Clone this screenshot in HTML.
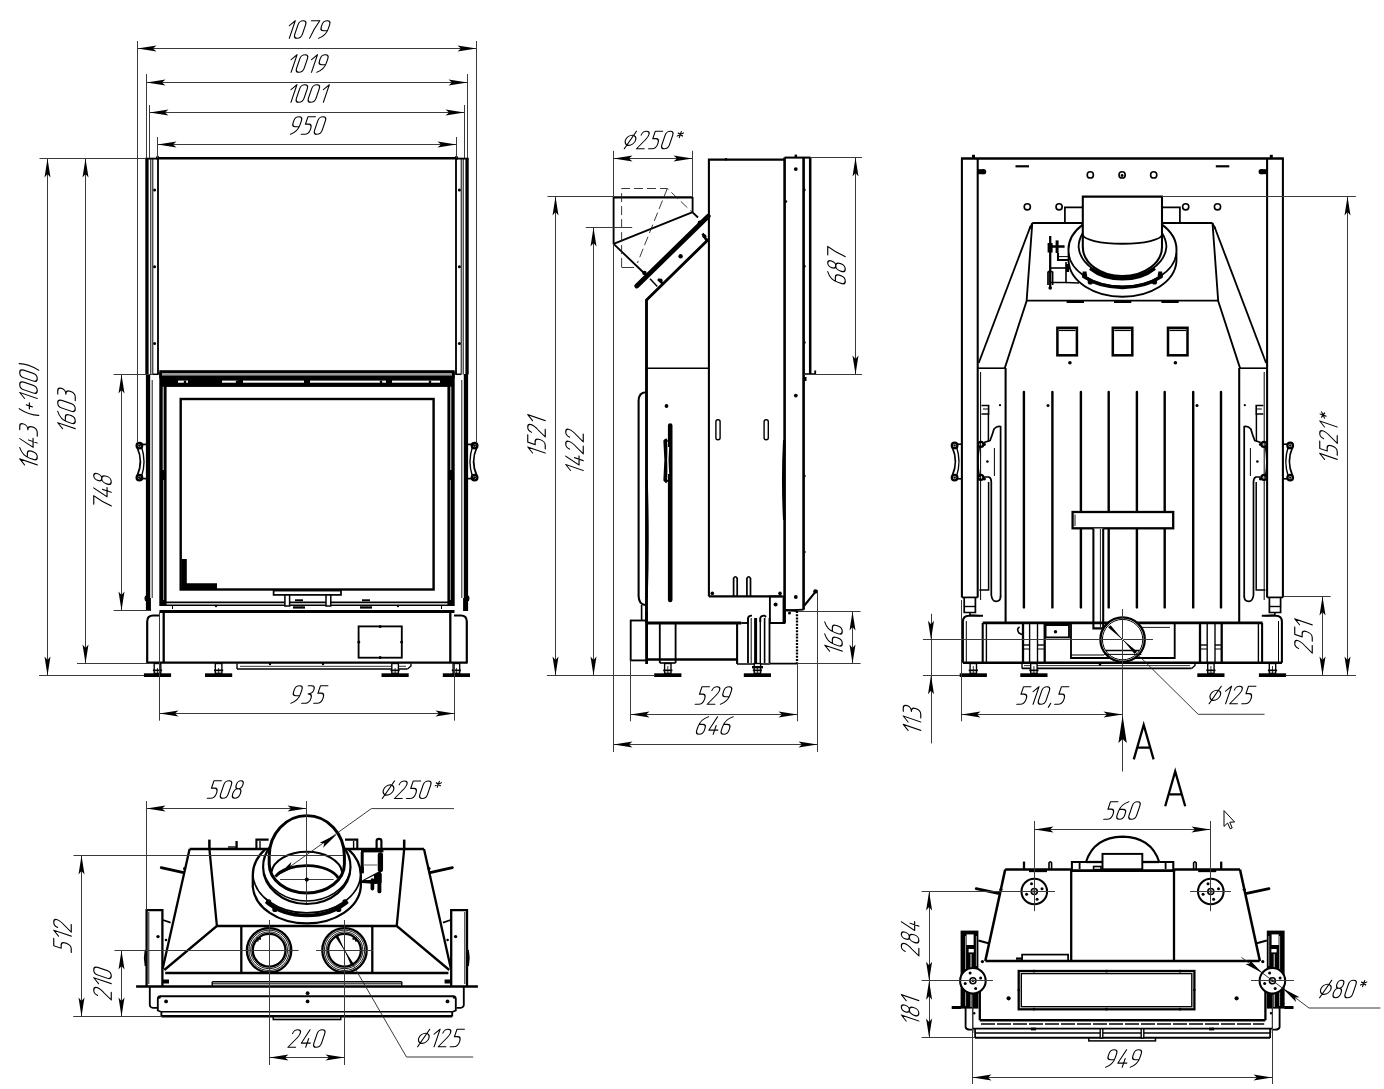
<!DOCTYPE html>
<html><head><meta charset="utf-8"><title>Drawing</title>
<style>html,body{margin:0;padding:0;background:#fff;font-family:"Liberation Sans",sans-serif;}svg{display:block}</style></head>
<body>
<svg width="1384" height="1089" viewBox="0 0 1384 1089">
<rect width="1384" height="1089" fill="#fff"/>
<g id="front">
<line x1="156.00" y1="158.20" x2="458.00" y2="158.20" stroke="#000" stroke-width="2.53" />
<rect x="145.30" y="158.40" width="3.30" height="216.10" fill="#000"/>
<line x1="150.80" y1="158.40" x2="150.80" y2="374.50" stroke="#000" stroke-width="1.0" />
<line x1="152.80" y1="158.40" x2="152.80" y2="374.50" stroke="#000" stroke-width="1.0" />
<line x1="158.00" y1="157.00" x2="158.00" y2="374.50" stroke="#000" stroke-width="1.84" />
<line x1="145.30" y1="158.60" x2="158.00" y2="158.60" stroke="#000" stroke-width="1.84" />
<line x1="152.80" y1="374.30" x2="158.60" y2="374.30" stroke="#000" stroke-width="1.49" />
<circle cx="154.60" cy="190.00" r="1.50" fill="#000"/>
<circle cx="154.60" cy="266.80" r="1.50" fill="#000"/>
<circle cx="154.60" cy="343.50" r="1.50" fill="#000"/>
<circle cx="157.60" cy="157.20" r="1.40" fill="#000"/>
<rect x="145.90" y="374.00" width="4.30" height="237.00" fill="#000"/>
<rect x="159.30" y="372.00" width="7.30" height="234.00" fill="#000"/>
<line x1="163.20" y1="386.00" x2="163.20" y2="470.00" stroke="#fff" stroke-width="0.9" />
<line x1="163.60" y1="480.00" x2="163.60" y2="600.00" stroke="#ddd" stroke-width="0.7" />
<line x1="152.20" y1="380.00" x2="152.20" y2="598.00" stroke="#000" stroke-width="0.9" />
<line x1="146.00" y1="444.40" x2="140.00" y2="444.40" stroke="#000" stroke-width="1.72" />
<line x1="146.00" y1="478.60" x2="140.00" y2="478.60" stroke="#000" stroke-width="1.72" />
<circle cx="139.40" cy="445.60" r="2.80" stroke="#000" stroke-width="2.3" fill="none"/>
<circle cx="139.40" cy="477.60" r="2.80" stroke="#000" stroke-width="2.3" fill="none"/>
<circle cx="139.40" cy="445.60" r="1.30" fill="#000"/>
<circle cx="139.40" cy="477.60" r="1.30" fill="#000"/>
<path d="M137.2,447.5 Q143.6,461.6 137.2,475.7" stroke="#000" stroke-width="1.72" fill="none" />
<path d="M141.6,447 Q146.4,461.6 141.6,476.2" stroke="#000" stroke-width="1.38" fill="none" />
<path d="M147.2,663.4 L147.2,621.5 Q147.2,615.5 153.2,615.5 L160,615.5" stroke="#000" stroke-width="2.18" fill="none" />
<line x1="163.70" y1="612.00" x2="163.70" y2="662.40" stroke="#000" stroke-width="2.3" />
<line x1="150.20" y1="598.00" x2="150.20" y2="611.00" stroke="#000" stroke-width="1.38" />
<path d="M146,596 Q144.6,598 146,601" stroke="#000" stroke-width="1.61" fill="none" />
<rect x="465.40" y="158.40" width="3.30" height="216.10" fill="#000"/>
<line x1="463.20" y1="158.40" x2="463.20" y2="374.50" stroke="#000" stroke-width="1.0" />
<line x1="461.20" y1="158.40" x2="461.20" y2="374.50" stroke="#000" stroke-width="1.0" />
<line x1="456.00" y1="157.00" x2="456.00" y2="374.50" stroke="#000" stroke-width="1.84" />
<line x1="468.70" y1="158.60" x2="456.00" y2="158.60" stroke="#000" stroke-width="1.84" />
<line x1="461.20" y1="374.30" x2="455.40" y2="374.30" stroke="#000" stroke-width="1.49" />
<circle cx="459.40" cy="190.00" r="1.50" fill="#000"/>
<circle cx="459.40" cy="266.80" r="1.50" fill="#000"/>
<circle cx="459.40" cy="343.50" r="1.50" fill="#000"/>
<circle cx="456.40" cy="157.20" r="1.40" fill="#000"/>
<rect x="463.80" y="374.00" width="4.30" height="237.00" fill="#000"/>
<rect x="447.40" y="372.00" width="7.30" height="234.00" fill="#000"/>
<line x1="450.80" y1="386.00" x2="450.80" y2="470.00" stroke="#fff" stroke-width="0.9" />
<line x1="450.40" y1="480.00" x2="450.40" y2="600.00" stroke="#ddd" stroke-width="0.7" />
<line x1="461.80" y1="380.00" x2="461.80" y2="598.00" stroke="#000" stroke-width="0.9" />
<line x1="468.00" y1="444.40" x2="474.00" y2="444.40" stroke="#000" stroke-width="1.72" />
<line x1="468.00" y1="478.60" x2="474.00" y2="478.60" stroke="#000" stroke-width="1.72" />
<circle cx="474.60" cy="445.60" r="2.80" stroke="#000" stroke-width="2.3" fill="none"/>
<circle cx="474.60" cy="477.60" r="2.80" stroke="#000" stroke-width="2.3" fill="none"/>
<circle cx="474.60" cy="445.60" r="1.30" fill="#000"/>
<circle cx="474.60" cy="477.60" r="1.30" fill="#000"/>
<path d="M476.8,447.5 Q470.4,461.6 476.8,475.7" stroke="#000" stroke-width="1.72" fill="none" />
<path d="M472.4,447 Q467.6,461.6 472.4,476.2" stroke="#000" stroke-width="1.38" fill="none" />
<path d="M466.8,663.4 L466.8,621.5 Q466.8,615.5 460.8,615.5 L454,615.5" stroke="#000" stroke-width="2.18" fill="none" />
<line x1="450.30" y1="612.00" x2="450.30" y2="662.40" stroke="#000" stroke-width="2.3" />
<line x1="463.80" y1="598.00" x2="463.80" y2="611.00" stroke="#000" stroke-width="1.38" />
<path d="M468,596 Q469.4,598 468,601" stroke="#000" stroke-width="1.61" fill="none" />
<rect x="159.30" y="370.20" width="295.40" height="8.10" fill="#000"/>
<rect x="162.00" y="373.00" width="290.00" height="2.60" fill="#9a9a9a"/>
<rect x="162.00" y="378.00" width="290.00" height="8.70" fill="#000"/>
<rect x="178.00" y="380.60" width="10.00" height="2.10" fill="#fff"/>
<rect x="222.00" y="380.60" width="16.00" height="2.10" fill="#fff"/>
<rect x="243.00" y="380.60" width="61.00" height="2.10" fill="#fff"/>
<rect x="310.00" y="380.60" width="76.00" height="2.10" fill="#fff"/>
<rect x="392.00" y="380.60" width="48.00" height="2.10" fill="#fff"/>
<circle cx="185.00" cy="381.90" r="1.30" fill="#000"/>
<circle cx="237.00" cy="381.90" r="1.30" fill="#000"/>
<circle cx="241.00" cy="381.90" r="1.30" fill="#000"/>
<circle cx="307.00" cy="381.90" r="1.30" fill="#000"/>
<circle cx="381.00" cy="381.90" r="1.30" fill="#000"/>
<circle cx="388.00" cy="381.90" r="1.30" fill="#000"/>
<circle cx="430.00" cy="381.90" r="1.30" fill="#000"/>
<line x1="164.70" y1="385.80" x2="449.30" y2="385.80" stroke="#000" stroke-width="1.84" />
<line x1="166.00" y1="602.30" x2="448.00" y2="602.30" stroke="#000" stroke-width="1.72" />
<line x1="166.00" y1="605.30" x2="448.00" y2="605.30" stroke="#000" stroke-width="1.49" />
<rect x="180.70" y="399.00" width="252.90" height="190.50" stroke="#000" stroke-width="2.42" fill="none"/>
<polygon points="181.5,559 186.8,559 186.8,583.2 217,583.2 217,589.2 181.5,589.2" fill="#000"/>
<rect x="273.60" y="590.60" width="67.40" height="4.30" stroke="#000" stroke-width="1.72" fill="#fff"/>
<rect x="284.90" y="595.00" width="4.70" height="11.00" stroke="#000" stroke-width="1.49" fill="#fff"/>
<rect x="326.00" y="595.00" width="4.80" height="11.00" stroke="#000" stroke-width="1.49" fill="#fff"/>
<rect x="295.00" y="599.30" width="8.00" height="1.90" fill="#000"/>
<rect x="293.00" y="606.30" width="12.00" height="2.30" fill="#000"/>
<rect x="362.00" y="599.30" width="8.00" height="1.90" fill="#000"/>
<rect x="360.00" y="606.30" width="12.00" height="2.30" fill="#000"/>
<line x1="172.50" y1="605.30" x2="172.50" y2="609.00" stroke="#000" stroke-width="1.0" />
<line x1="441.50" y1="605.30" x2="441.50" y2="609.00" stroke="#000" stroke-width="1.0" />
<circle cx="216.00" cy="606.00" r="1.20" fill="#000"/>
<circle cx="398.00" cy="606.00" r="1.20" fill="#000"/>
<line x1="159.50" y1="611.60" x2="454.50" y2="611.60" stroke="#000" stroke-width="2.99" />
<line x1="147.20" y1="662.60" x2="466.80" y2="662.60" stroke="#000" stroke-width="2.3" />
<rect x="358.60" y="626.40" width="43.20" height="31.30" stroke="#000" stroke-width="1.84" fill="none"/>
<circle cx="380.20" cy="626.60" r="1.50" fill="#000"/>
<circle cx="380.20" cy="657.50" r="1.50" fill="#000"/>
<circle cx="358.80" cy="642.00" r="1.50" fill="#000"/>
<circle cx="401.60" cy="642.00" r="1.50" fill="#000"/>
<line x1="237.00" y1="669.00" x2="407.50" y2="669.00" stroke="#000" stroke-width="1.61" />
<line x1="237.00" y1="663.50" x2="237.00" y2="669.00" stroke="#000" stroke-width="1.38" />
<path d="M411,663.5 L411,666 L407.5,669" stroke="#000" stroke-width="1.38" fill="none" />
<line x1="240.00" y1="666.30" x2="406.00" y2="666.30" stroke="#000" stroke-width="0.8" />
<circle cx="270.00" cy="664.00" r="1.20" fill="#000"/>
<circle cx="323.00" cy="664.00" r="1.20" fill="#000"/>
<circle cx="394.00" cy="664.00" r="1.20" fill="#000"/>
<rect x="143.90" y="673.30" width="27.20" height="3.70" fill="#000"/>
<rect x="154.20" y="663.50" width="6.60" height="9.80" stroke="#000" stroke-width="1.38" fill="#fff"/>
<line x1="157.50" y1="668.00" x2="157.50" y2="673.00" stroke="#000" stroke-width="0.8" />
<rect x="152.90" y="669.50" width="9.20" height="1.70" fill="#000"/>
<rect x="205.00" y="673.30" width="27.20" height="3.70" fill="#000"/>
<rect x="215.30" y="663.50" width="6.60" height="9.80" stroke="#000" stroke-width="1.38" fill="#fff"/>
<line x1="218.60" y1="668.00" x2="218.60" y2="673.00" stroke="#000" stroke-width="0.8" />
<rect x="214.00" y="669.50" width="9.20" height="1.70" fill="#000"/>
<rect x="381.50" y="673.30" width="27.20" height="3.70" fill="#000"/>
<rect x="391.80" y="663.50" width="6.60" height="9.80" stroke="#000" stroke-width="1.38" fill="#fff"/>
<line x1="395.10" y1="668.00" x2="395.10" y2="673.00" stroke="#000" stroke-width="0.8" />
<rect x="390.50" y="669.50" width="9.20" height="1.70" fill="#000"/>
<rect x="442.80" y="673.30" width="27.20" height="3.70" fill="#000"/>
<rect x="453.10" y="663.50" width="6.60" height="9.80" stroke="#000" stroke-width="1.38" fill="#fff"/>
<line x1="456.40" y1="668.00" x2="456.40" y2="673.00" stroke="#000" stroke-width="0.8" />
<rect x="451.80" y="669.50" width="9.20" height="1.70" fill="#000"/>
<line x1="137.50" y1="41.00" x2="137.50" y2="442.50" stroke="#3a3a3a" stroke-width="1.0" />
<line x1="476.50" y1="41.00" x2="476.50" y2="442.50" stroke="#3a3a3a" stroke-width="1.0" />
<line x1="137.50" y1="48.50" x2="476.50" y2="48.50" stroke="#3a3a3a" stroke-width="1.0" />
<polygon points="137.50,48.50 156.50,51.50 153.00,48.50 156.50,45.50" fill="#000"/>
<polygon points="476.50,48.50 457.50,45.50 461.00,48.50 457.50,51.50" fill="#000"/>
<g transform="translate(308.00,38.80) rotate(0) scale(1.0) translate(-22.98,0) matrix(1,0,-0.34,1,5.950,-18.050)" fill="none" stroke="#000" stroke-width="1.15" stroke-linecap="round" stroke-linejoin="round">
<path transform="translate(0.00,0)" d="M0,4.8 L4.3,0 L4.3,17.5"/>
<path transform="translate(8.40,0)" d="M0,4 Q0,0 3.8,0 Q7.6,0 7.6,4 L7.6,13.5 Q7.6,17.5 3.8,17.5 Q0,17.5 0,13.5 Z"/>
<path transform="translate(20.40,0)" d="M0,0 L8.4,0 Q5.2,8 4.2,17.5"/>
<path transform="translate(32.40,0)" d="M7.6,4 Q7.6,0 3.8,0 Q0,0 0,4 L0,6 Q0,10 3.8,10 L7.199999999999999,10 M7.6,4 L7.6,8 Q7.6,15 1.2,17.5"/>
</g>
<line x1="146.50" y1="74.00" x2="146.50" y2="158.00" stroke="#3a3a3a" stroke-width="1.0" />
<line x1="467.50" y1="74.00" x2="467.50" y2="158.00" stroke="#3a3a3a" stroke-width="1.0" />
<line x1="146.50" y1="82.50" x2="467.50" y2="82.50" stroke="#3a3a3a" stroke-width="1.0" />
<polygon points="146.50,82.50 165.50,85.50 162.00,82.50 165.50,79.50" fill="#000"/>
<polygon points="467.50,82.50 448.50,79.50 452.00,82.50 448.50,85.50" fill="#000"/>
<g transform="translate(308.00,72.80) rotate(0) scale(1.0) translate(-21.18,0) matrix(1,0,-0.34,1,5.950,-18.050)" fill="none" stroke="#000" stroke-width="1.15" stroke-linecap="round" stroke-linejoin="round">
<path transform="translate(0.00,0)" d="M0,4.8 L4.3,0 L4.3,17.5"/>
<path transform="translate(8.40,0)" d="M0,4 Q0,0 3.8,0 Q7.6,0 7.6,4 L7.6,13.5 Q7.6,17.5 3.8,17.5 Q0,17.5 0,13.5 Z"/>
<path transform="translate(20.40,0)" d="M0,4.8 L4.3,0 L4.3,17.5"/>
<path transform="translate(28.80,0)" d="M7.6,4 Q7.6,0 3.8,0 Q0,0 0,4 L0,6 Q0,10 3.8,10 L7.199999999999999,10 M7.6,4 L7.6,8 Q7.6,15 1.2,17.5"/>
</g>
<line x1="149.50" y1="105.00" x2="149.50" y2="158.00" stroke="#3a3a3a" stroke-width="1.0" />
<line x1="464.50" y1="105.00" x2="464.50" y2="158.00" stroke="#3a3a3a" stroke-width="1.0" />
<line x1="149.50" y1="112.50" x2="464.50" y2="112.50" stroke="#3a3a3a" stroke-width="1.0" />
<polygon points="149.50,112.50 168.50,115.50 165.00,112.50 168.50,109.50" fill="#000"/>
<polygon points="464.50,112.50 445.50,109.50 449.00,112.50 445.50,115.50" fill="#000"/>
<g transform="translate(308.00,102.80) rotate(0) scale(1.0) translate(-21.32,0) matrix(1,0,-0.34,1,5.950,-18.050)" fill="none" stroke="#000" stroke-width="1.15" stroke-linecap="round" stroke-linejoin="round">
<path transform="translate(0.00,0)" d="M0,4.8 L4.3,0 L4.3,17.5"/>
<path transform="translate(8.40,0)" d="M0,4 Q0,0 3.8,0 Q7.6,0 7.6,4 L7.6,13.5 Q7.6,17.5 3.8,17.5 Q0,17.5 0,13.5 Z"/>
<path transform="translate(20.40,0)" d="M0,4 Q0,0 3.8,0 Q7.6,0 7.6,4 L7.6,13.5 Q7.6,17.5 3.8,17.5 Q0,17.5 0,13.5 Z"/>
<path transform="translate(32.40,0)" d="M0,4.8 L4.3,0 L4.3,17.5"/>
</g>
<line x1="157.50" y1="137.00" x2="157.50" y2="158.00" stroke="#3a3a3a" stroke-width="1.0" />
<line x1="456.50" y1="137.00" x2="456.50" y2="158.00" stroke="#3a3a3a" stroke-width="1.0" />
<line x1="157.50" y1="144.50" x2="456.50" y2="144.50" stroke="#3a3a3a" stroke-width="1.0" />
<polygon points="157.50,144.50 176.50,147.50 173.00,144.50 176.50,141.50" fill="#000"/>
<polygon points="456.50,144.50 437.50,141.50 441.00,144.50 437.50,147.50" fill="#000"/>
<g transform="translate(308.00,134.80) rotate(0) scale(1.0) translate(-18.78,0) matrix(1,0,-0.34,1,5.950,-18.050)" fill="none" stroke="#000" stroke-width="1.15" stroke-linecap="round" stroke-linejoin="round">
<path transform="translate(0.00,0)" d="M7.6,4 Q7.6,0 3.8,0 Q0,0 0,4 L0,6 Q0,10 3.8,10 L7.199999999999999,10 M7.6,4 L7.6,8 Q7.6,15 1.2,17.5"/>
<path transform="translate(12.00,0)" d="M8.2,0 L0.8,0 L0.8,7.4 L3.8,7.4 Q7.6,7.4 7.6,12.2 Q7.6,17.5 3.4,17.5 L0,17.5"/>
<path transform="translate(24.00,0)" d="M0,4 Q0,0 3.8,0 Q7.6,0 7.6,4 L7.6,13.5 Q7.6,17.5 3.8,17.5 Q0,17.5 0,13.5 Z"/>
</g>
<line x1="39.50" y1="158.50" x2="146.00" y2="158.50" stroke="#3a3a3a" stroke-width="1.0" />
<line x1="39.00" y1="675.50" x2="144.00" y2="675.50" stroke="#3a3a3a" stroke-width="1.0" />
<line x1="77.00" y1="663.50" x2="147.00" y2="663.50" stroke="#3a3a3a" stroke-width="1.0" />
<line x1="47.50" y1="158.50" x2="47.50" y2="675.50" stroke="#3a3a3a" stroke-width="1.0" />
<polygon points="47.50,158.50 44.50,177.50 47.50,174.00 50.50,177.50" fill="#000"/>
<polygon points="47.50,675.50 50.50,656.50 47.50,660.00 44.50,656.50" fill="#000"/>
<g transform="translate(37.80,415.00) rotate(-90) scale(1.0) translate(-54.17,0) matrix(1,0,-0.34,1,5.950,-18.050)" fill="none" stroke="#000" stroke-width="1.15" stroke-linecap="round" stroke-linejoin="round">
<path transform="translate(0.00,0)" d="M0,4.8 L4.3,0 L4.3,17.5"/>
<path transform="translate(8.40,0)" d="M7.2,0 Q0,2.5 0,10 L0,13.5 Q0,17.5 3.8,17.5 Q7.6,17.5 7.6,13.5 L7.6,11.6 Q7.6,7.6 3.8,7.6 L0.5,7.6"/>
<path transform="translate(20.40,0)" d="M4.2,0 L0,13.30 L9,13.30 M5.8,8.75 L5.8,17.5"/>
<path transform="translate(33.00,0)" d="M0.6,0 L3.8,0 Q7.6,0 7.6,4 Q7.6,8 3.3,8.1 Q7.6,8.2 7.6,12.6 Q7.6,17.5 3.8,17.5 L0,17.5"/>
<path transform="translate(51.00,0)" d="M3.4,-0.5 Q0.4,8.75 3.4,19.0"/>
<path transform="translate(57.20,0)" d="M0.4,9.62 L6.4,9.62 M3.4,6.62 L3.4,12.62"/>
<path transform="translate(66.40,0)" d="M0,4.8 L4.3,0 L4.3,17.5"/>
<path transform="translate(74.80,0)" d="M0,4 Q0,0 3.8,0 Q7.6,0 7.6,4 L7.6,13.5 Q7.6,17.5 3.8,17.5 Q0,17.5 0,13.5 Z"/>
<path transform="translate(86.80,0)" d="M0,4 Q0,0 3.8,0 Q7.6,0 7.6,4 L7.6,13.5 Q7.6,17.5 3.8,17.5 Q0,17.5 0,13.5 Z"/>
<path transform="translate(98.80,0)" d="M0.6,-0.5 Q3.6,8.75 0.6,19.0"/>
</g>
<line x1="85.50" y1="158.50" x2="85.50" y2="663.50" stroke="#3a3a3a" stroke-width="1.0" />
<polygon points="85.50,158.50 82.50,177.50 85.50,174.00 88.50,177.50" fill="#000"/>
<polygon points="85.50,663.50 88.50,644.50 85.50,648.00 82.50,644.50" fill="#000"/>
<g transform="translate(75.80,410.00) rotate(-90) scale(1.0) translate(-22.98,0) matrix(1,0,-0.34,1,5.950,-18.050)" fill="none" stroke="#000" stroke-width="1.15" stroke-linecap="round" stroke-linejoin="round">
<path transform="translate(0.00,0)" d="M0,4.8 L4.3,0 L4.3,17.5"/>
<path transform="translate(8.40,0)" d="M7.2,0 Q0,2.5 0,10 L0,13.5 Q0,17.5 3.8,17.5 Q7.6,17.5 7.6,13.5 L7.6,11.6 Q7.6,7.6 3.8,7.6 L0.5,7.6"/>
<path transform="translate(20.40,0)" d="M0,4 Q0,0 3.8,0 Q7.6,0 7.6,4 L7.6,13.5 Q7.6,17.5 3.8,17.5 Q0,17.5 0,13.5 Z"/>
<path transform="translate(32.40,0)" d="M0.6,0 L3.8,0 Q7.6,0 7.6,4 Q7.6,8 3.3,8.1 Q7.6,8.2 7.6,12.6 Q7.6,17.5 3.8,17.5 L0,17.5"/>
</g>
<line x1="113.60" y1="374.50" x2="153.00" y2="374.50" stroke="#3a3a3a" stroke-width="1.0" />
<line x1="113.60" y1="610.50" x2="150.00" y2="610.50" stroke="#3a3a3a" stroke-width="1.0" />
<line x1="121.50" y1="374.50" x2="121.50" y2="610.50" stroke="#3a3a3a" stroke-width="1.0" />
<polygon points="121.50,374.50 118.50,393.50 121.50,390.00 124.50,393.50" fill="#000"/>
<polygon points="121.50,610.50 124.50,591.50 121.50,595.00 118.50,591.50" fill="#000"/>
<g transform="translate(111.80,491.00) rotate(-90) scale(1.0) translate(-19.08,0) matrix(1,0,-0.34,1,5.950,-18.050)" fill="none" stroke="#000" stroke-width="1.15" stroke-linecap="round" stroke-linejoin="round">
<path transform="translate(0.00,0)" d="M0,0 L8.4,0 Q5.2,8 4.2,17.5"/>
<path transform="translate(12.00,0)" d="M4.2,0 L0,13.30 L9,13.30 M5.8,8.75 L5.8,17.5"/>
<path transform="translate(24.60,0)" d="M3.8,8 Q0.5,8 0.5,4 Q0.5,0 3.8,0 Q7.1,0 7.1,4 Q7.1,8 3.8,8 Q0,8 0,12.8 Q0,17.5 3.8,17.5 Q7.6,17.5 7.6,12.8 Q7.6,8 3.8,8"/>
</g>
<line x1="159.50" y1="612.00" x2="159.50" y2="720.70" stroke="#3a3a3a" stroke-width="1.0" />
<line x1="454.50" y1="664.00" x2="454.50" y2="720.70" stroke="#3a3a3a" stroke-width="1.0" />
<line x1="159.50" y1="713.50" x2="454.50" y2="713.50" stroke="#3a3a3a" stroke-width="1.0" />
<polygon points="159.50,713.50 178.50,716.50 175.00,713.50 178.50,710.50" fill="#000"/>
<polygon points="454.50,713.50 435.50,710.50 439.00,713.50 435.50,716.50" fill="#000"/>
<g transform="translate(308.50,703.80) rotate(0) scale(1.0) translate(-18.78,0) matrix(1,0,-0.34,1,5.950,-18.050)" fill="none" stroke="#000" stroke-width="1.15" stroke-linecap="round" stroke-linejoin="round">
<path transform="translate(0.00,0)" d="M7.6,4 Q7.6,0 3.8,0 Q0,0 0,4 L0,6 Q0,10 3.8,10 L7.199999999999999,10 M7.6,4 L7.6,8 Q7.6,15 1.2,17.5"/>
<path transform="translate(12.00,0)" d="M0.6,0 L3.8,0 Q7.6,0 7.6,4 Q7.6,8 3.3,8.1 Q7.6,8.2 7.6,12.6 Q7.6,17.5 3.8,17.5 L0,17.5"/>
<path transform="translate(24.00,0)" d="M8.2,0 L0.8,0 L0.8,7.4 L3.8,7.4 Q7.6,7.4 7.6,12.2 Q7.6,17.5 3.4,17.5 L0,17.5"/>
</g>
</g>
<g id="side">
<line x1="613.60" y1="197.30" x2="692.60" y2="197.30" stroke="#000" stroke-width="2.3" />
<path d="M613.6,197 L613.6,243.9 L644.5,273.5" stroke="#000" stroke-width="1.84" fill="none" />
<path d="M692.6,197 L692.6,212.3 L698,217.5" stroke="#000" stroke-width="1.84" fill="none" />
<line x1="613.60" y1="243.90" x2="692.00" y2="212.30" stroke="#000" stroke-width="1.84" />
<path d="M621.6,267.1 L621.6,188.5 L667.3,188.5 L692.2,212.3" stroke="#222" stroke-width="0.9" fill="none" stroke-dasharray="9 4"/>
<path d="M667.3,188.5 L637.4,263" stroke="#222" stroke-width="0.9" fill="none" stroke-dasharray="9 4"/>
<line x1="621.60" y1="267.50" x2="634.00" y2="267.50" stroke="#3a3a3a" stroke-width="1.0" />
<line x1="636.80" y1="286.00" x2="708.20" y2="216.20" stroke="#000" stroke-width="4.83" stroke-linecap="round"/>
<path d="M646.5,623 L646.5,300 L708.6,239.2" stroke="#000" stroke-width="2.88" fill="none" />
<line x1="650.00" y1="278.80" x2="657.30" y2="286.40" stroke="#000" stroke-width="1.49" />
<line x1="657.30" y1="286.40" x2="706.40" y2="238.60" stroke="#000" stroke-width="0.01" />
<circle cx="660.60" cy="280.40" r="2.00" fill="#000"/>
<circle cx="680.60" cy="256.20" r="2.20" fill="#000"/>
<circle cx="704.40" cy="236.20" r="2.00" fill="#000"/>
<circle cx="644.50" cy="273.00" r="2.20" fill="#000"/>
<circle cx="700.00" cy="223.00" r="2.40" fill="#000"/>
<line x1="658.00" y1="279.00" x2="663.50" y2="284.40" stroke="#000" stroke-width="2.53" />
<line x1="702.50" y1="233.50" x2="707.00" y2="241.00" stroke="#000" stroke-width="2.53" />
<path d="M708.9,596.4 L708.9,159.6 L784.5,159.6" stroke="#000" stroke-width="2.07" fill="none" />
<line x1="708.90" y1="596.40" x2="782.00" y2="596.40" stroke="#000" stroke-width="2.07" />
<circle cx="726.00" cy="159.20" r="1.30" fill="#000"/>
<rect x="783.30" y="157.50" width="2.60" height="465.50" fill="#000"/>
<line x1="784.50" y1="157.60" x2="810.60" y2="157.60" stroke="#000" stroke-width="2.07" />
<line x1="803.60" y1="157.60" x2="803.60" y2="609.70" stroke="#000" stroke-width="2.64" />
<line x1="810.20" y1="157.60" x2="810.20" y2="374.00" stroke="#000" stroke-width="2.53" />
<path d="M803.6,374.2 L815.2,374.2 L815.2,370.6" stroke="#000" stroke-width="1.84" fill="none" />
<rect x="803.00" y="377.00" width="3.50" height="4.00" fill="#000"/>
<rect x="794.60" y="154.60" width="2.40" height="3.40" fill="#000"/>
<circle cx="795.80" cy="169.10" r="1.90" fill="#000"/>
<circle cx="795.80" cy="395.60" r="1.90" fill="#000"/>
<circle cx="795.80" cy="597.00" r="1.90" fill="#000"/>
<circle cx="804.40" cy="189.90" r="1.30" fill="#000"/>
<circle cx="804.40" cy="266.30" r="1.30" fill="#000"/>
<circle cx="804.40" cy="342.50" r="1.30" fill="#000"/>
<circle cx="804.40" cy="476.00" r="1.30" fill="#000"/>
<circle cx="804.40" cy="552.00" r="1.30" fill="#000"/>
<circle cx="786.00" cy="201.50" r="1.20" fill="#000"/>
<rect x="715.9" y="419.7" width="4.2" height="20" rx="2" fill="none" stroke="#000" stroke-width="1.4"/>
<rect x="764.1" y="419.7" width="4.2" height="20" rx="2" fill="none" stroke="#000" stroke-width="1.4"/>
<path d="M733.6,596 L733.6,578.5 Q735.4,575 737.1999999999999,578.5 L737.1999999999999,596" stroke="#000" stroke-width="1.72" fill="none" />
<path d="M746.9000000000001,596 L746.9000000000001,578.5 Q748.7,575 750.5,578.5 L750.5,596" stroke="#000" stroke-width="1.72" fill="none" />
<circle cx="712.30" cy="593.40" r="1.80" fill="#000"/>
<circle cx="780.00" cy="593.40" r="1.80" fill="#000"/>
<line x1="646.50" y1="368.20" x2="708.90" y2="368.20" stroke="#000" stroke-width="1.61" />
<path d="M646,392.3 Q638.6,392.6 638.6,401 L638.6,596 Q638.8,604 645,605" stroke="#000" stroke-width="2.07" fill="none" />
<line x1="641.60" y1="605.00" x2="641.60" y2="620.50" stroke="#000" stroke-width="1.61" />
<circle cx="666.50" cy="406.00" r="1.90" fill="#000"/>
<path d="M670.2,425.5 L670.2,600" stroke="#000" stroke-width="4.6" fill="none" stroke-linecap="round"/>
<path d="M667.3,439.7 L665.2,441 L666.2,460 L665.2,480 L667.3,482" stroke="#000" stroke-width="3.68" fill="none" stroke-linejoin="round"/>
<path d="M668.5,447 L667.8,460 L668.5,474" stroke="#fff" stroke-width="1.38" fill="none" />
<path d="M646.6,480 Q648.6,540 646.6,598" stroke="#000" stroke-width="2.3" fill="none" />
<path d="M784.4,440 Q782.3,480 784.4,520" stroke="#000" stroke-width="2.76" fill="none" />
<rect x="769.90" y="596.40" width="13.60" height="26.60" stroke="#000" stroke-width="1.84" fill="none"/>
<circle cx="775.60" cy="604.40" r="2.00" fill="#000"/>
<path d="M769.9,623 L784.5,623 L784.5,610.5 L803.6,609.7" stroke="#000" stroke-width="1.84" fill="none" />
<line x1="804.40" y1="605.50" x2="815.60" y2="591.60" stroke="#000" stroke-width="2.07" />
<circle cx="815.40" cy="591.40" r="2.20" fill="#000"/>
<path d="M785.5,610 L797,611" stroke="#000" stroke-width="1.84" fill="none" />
<circle cx="789.50" cy="613.00" r="1.50" fill="#000"/>
<line x1="797.00" y1="611.00" x2="797.00" y2="663.00" stroke="#000" stroke-width="2.3" stroke-dasharray="2 1.2"/>
<line x1="770.00" y1="663.60" x2="797.00" y2="663.60" stroke="#000" stroke-width="1.72" />
<line x1="647.40" y1="623.00" x2="741.30" y2="623.00" stroke="#000" stroke-width="2.76" />
<line x1="647.00" y1="659.50" x2="737.00" y2="659.50" stroke="#000" stroke-width="2.3" />
<rect x="630.70" y="620.50" width="15.90" height="39.90" stroke="#000" stroke-width="1.84" fill="none"/>
<line x1="646.60" y1="612.00" x2="646.60" y2="664.00" stroke="#000" stroke-width="2.76" />
<line x1="659.80" y1="623.00" x2="659.80" y2="663.00" stroke="#000" stroke-width="1.84" />
<line x1="675.60" y1="623.00" x2="675.60" y2="663.00" stroke="#000" stroke-width="1.84" />
<line x1="659.80" y1="663.00" x2="675.60" y2="663.00" stroke="#000" stroke-width="1.61" />
<line x1="737.10" y1="623.00" x2="737.10" y2="664.00" stroke="#000" stroke-width="2.07" />
<line x1="737.00" y1="664.00" x2="770.00" y2="664.00" stroke="#000" stroke-width="1.72" />
<line x1="748.00" y1="618.00" x2="748.00" y2="663.00" stroke="#000" stroke-width="1.84" />
<line x1="751.20" y1="618.00" x2="751.20" y2="663.00" stroke="#000" stroke-width="1.0" />
<line x1="755.60" y1="618.00" x2="755.60" y2="663.00" stroke="#000" stroke-width="2.99" />
<line x1="760.30" y1="618.00" x2="760.30" y2="663.00" stroke="#000" stroke-width="1.38" />
<line x1="764.60" y1="618.00" x2="764.60" y2="663.00" stroke="#000" stroke-width="1.61" />
<line x1="769.50" y1="618.00" x2="769.50" y2="663.00" stroke="#000" stroke-width="1.84" />
<path d="M748,622 L748,618 Q748.6,615.4 752,615.6" stroke="#000" stroke-width="1.84" fill="none" />
<path d="M760.3,622 L760.3,618 Q761,615.4 764.6,615.6 L766,617" stroke="#000" stroke-width="1.84" fill="none" />
<line x1="741.30" y1="623.00" x2="748.00" y2="623.00" stroke="#000" stroke-width="1.84" />
<rect x="654.20" y="673.30" width="27.20" height="3.70" fill="#000"/>
<rect x="664.60" y="663.50" width="6.40" height="9.80" stroke="#000" stroke-width="1.38" fill="#fff"/>
<line x1="667.80" y1="666.00" x2="667.80" y2="673.00" stroke="#000" stroke-width="0.8" />
<rect x="663.20" y="669.50" width="9.20" height="1.70" fill="#000"/>
<rect x="743.80" y="673.30" width="27.20" height="3.70" fill="#000"/>
<rect x="754.20" y="663.50" width="6.40" height="9.80" stroke="#000" stroke-width="1.38" fill="#fff"/>
<line x1="757.40" y1="666.00" x2="757.40" y2="673.00" stroke="#000" stroke-width="0.8" />
<rect x="752.80" y="669.50" width="9.20" height="1.70" fill="#000"/>
<rect x="752.00" y="666.00" width="11.00" height="2.40" fill="#000"/>
<line x1="613.50" y1="150.80" x2="613.50" y2="197.00" stroke="#3a3a3a" stroke-width="1.0" />
<line x1="692.50" y1="150.80" x2="692.50" y2="197.00" stroke="#3a3a3a" stroke-width="1.0" />
<line x1="613.50" y1="158.50" x2="692.50" y2="158.50" stroke="#3a3a3a" stroke-width="1.0" />
<polygon points="613.50,158.50 632.50,161.50 629.00,158.50 632.50,155.50" fill="#000"/>
<polygon points="692.50,158.50 673.50,155.50 677.00,158.50 673.50,161.50" fill="#000"/>
<g transform="translate(654.50,149.30) rotate(0) scale(1.0) translate(-29.58,0) matrix(1,0,-0.34,1,5.950,-18.050)" fill="none" stroke="#000" stroke-width="1.15" stroke-linecap="round" stroke-linejoin="round">
<path transform="translate(0.00,0)" d="M-0.6,17.5 L5.6,0 M-2.4,9.05 a5.1,5.1 0 1 0 10.2,0 a5.1,5.1 0 1 0 -10.2,0"/>
<path transform="translate(11.60,0)" d="M0,3.8 Q0.3,0 3.8,0 Q7.6,0 7.6,3.6 Q7.6,6.5 4.5,10.5 L0,17.5 L7.6,17.5"/>
<path transform="translate(23.60,0)" d="M8.2,0 L0.8,0 L0.8,7.4 L3.8,7.4 Q7.6,7.4 7.6,12.2 Q7.6,17.5 3.4,17.5 L0,17.5"/>
<path transform="translate(35.60,0)" d="M0,4 Q0,0 3.8,0 Q7.6,0 7.6,4 L7.6,13.5 Q7.6,17.5 3.8,17.5 Q0,17.5 0,13.5 Z"/>
<path transform="translate(47.60,0)" d="M3,0.3 L3,6.3 M0.4,1.8 L5.6,4.8 M5.6,1.8 L0.4,4.8"/>
</g>
<line x1="811.00" y1="157.50" x2="862.00" y2="157.50" stroke="#3a3a3a" stroke-width="1.0" />
<line x1="804.00" y1="374.50" x2="862.00" y2="374.50" stroke="#3a3a3a" stroke-width="1.0" />
<line x1="855.50" y1="157.50" x2="855.50" y2="374.50" stroke="#3a3a3a" stroke-width="1.0" />
<polygon points="855.50,157.50 852.50,176.50 855.50,173.00 858.50,176.50" fill="#000"/>
<polygon points="855.50,374.50 858.50,355.50 855.50,359.00 852.50,355.50" fill="#000"/>
<g transform="translate(845.80,266.00) rotate(-90) scale(1.0) translate(-18.78,0) matrix(1,0,-0.34,1,5.950,-18.050)" fill="none" stroke="#000" stroke-width="1.15" stroke-linecap="round" stroke-linejoin="round">
<path transform="translate(0.00,0)" d="M7.2,0 Q0,2.5 0,10 L0,13.5 Q0,17.5 3.8,17.5 Q7.6,17.5 7.6,13.5 L7.6,11.6 Q7.6,7.6 3.8,7.6 L0.5,7.6"/>
<path transform="translate(12.00,0)" d="M3.8,8 Q0.5,8 0.5,4 Q0.5,0 3.8,0 Q7.1,0 7.1,4 Q7.1,8 3.8,8 Q0,8 0,12.8 Q0,17.5 3.8,17.5 Q7.6,17.5 7.6,12.8 Q7.6,8 3.8,8"/>
<path transform="translate(24.00,0)" d="M0,0 L8.4,0 Q5.2,8 4.2,17.5"/>
</g>
<line x1="547.50" y1="196.50" x2="613.00" y2="196.50" stroke="#3a3a3a" stroke-width="1.0" />
<line x1="585.80" y1="227.50" x2="632.20" y2="227.50" stroke="#3a3a3a" stroke-width="1.0" />
<line x1="546.90" y1="675.50" x2="654.00" y2="675.50" stroke="#3a3a3a" stroke-width="1.0" />
<line x1="555.50" y1="196.50" x2="555.50" y2="675.50" stroke="#3a3a3a" stroke-width="1.0" />
<polygon points="555.50,196.50 552.50,215.50 555.50,212.00 558.50,215.50" fill="#000"/>
<polygon points="555.50,675.50 558.50,656.50 555.50,660.00 552.50,656.50" fill="#000"/>
<g transform="translate(545.80,436.00) rotate(-90) scale(1.0) translate(-21.32,0) matrix(1,0,-0.34,1,5.950,-18.050)" fill="none" stroke="#000" stroke-width="1.15" stroke-linecap="round" stroke-linejoin="round">
<path transform="translate(0.00,0)" d="M0,4.8 L4.3,0 L4.3,17.5"/>
<path transform="translate(8.40,0)" d="M8.2,0 L0.8,0 L0.8,7.4 L3.8,7.4 Q7.6,7.4 7.6,12.2 Q7.6,17.5 3.4,17.5 L0,17.5"/>
<path transform="translate(20.40,0)" d="M0,3.8 Q0.3,0 3.8,0 Q7.6,0 7.6,3.6 Q7.6,6.5 4.5,10.5 L0,17.5 L7.6,17.5"/>
<path transform="translate(32.40,0)" d="M0,4.8 L4.3,0 L4.3,17.5"/>
</g>
<line x1="593.50" y1="227.50" x2="593.50" y2="675.50" stroke="#3a3a3a" stroke-width="1.0" />
<polygon points="593.50,227.50 590.50,246.50 593.50,243.00 596.50,246.50" fill="#000"/>
<polygon points="593.50,675.50 596.50,656.50 593.50,660.00 590.50,656.50" fill="#000"/>
<g transform="translate(583.80,451.50) rotate(-90) scale(1.0) translate(-23.28,0) matrix(1,0,-0.34,1,5.950,-18.050)" fill="none" stroke="#000" stroke-width="1.15" stroke-linecap="round" stroke-linejoin="round">
<path transform="translate(0.00,0)" d="M0,4.8 L4.3,0 L4.3,17.5"/>
<path transform="translate(8.40,0)" d="M4.2,0 L0,13.30 L9,13.30 M5.8,8.75 L5.8,17.5"/>
<path transform="translate(21.00,0)" d="M0,3.8 Q0.3,0 3.8,0 Q7.6,0 7.6,3.6 Q7.6,6.5 4.5,10.5 L0,17.5 L7.6,17.5"/>
<path transform="translate(33.00,0)" d="M0,3.8 Q0.3,0 3.8,0 Q7.6,0 7.6,3.6 Q7.6,6.5 4.5,10.5 L0,17.5 L7.6,17.5"/>
</g>
<line x1="798.00" y1="611.50" x2="860.60" y2="611.50" stroke="#3a3a3a" stroke-width="1.0" />
<line x1="797.00" y1="663.50" x2="860.60" y2="663.50" stroke="#3a3a3a" stroke-width="1.0" />
<line x1="852.50" y1="611.50" x2="852.50" y2="663.50" stroke="#3a3a3a" stroke-width="1.0" />
<polygon points="852.50,611.50 849.50,630.50 852.50,627.00 855.50,630.50" fill="#000"/>
<polygon points="852.50,663.50 855.50,644.50 852.50,648.00 849.50,644.50" fill="#000"/>
<g transform="translate(842.80,638.50) rotate(-90) scale(1.0) translate(-16.98,0) matrix(1,0,-0.34,1,5.950,-18.050)" fill="none" stroke="#000" stroke-width="1.15" stroke-linecap="round" stroke-linejoin="round">
<path transform="translate(0.00,0)" d="M0,4.8 L4.3,0 L4.3,17.5"/>
<path transform="translate(8.40,0)" d="M7.2,0 Q0,2.5 0,10 L0,13.5 Q0,17.5 3.8,17.5 Q7.6,17.5 7.6,13.5 L7.6,11.6 Q7.6,7.6 3.8,7.6 L0.5,7.6"/>
<path transform="translate(20.40,0)" d="M7.2,0 Q0,2.5 0,10 L0,13.5 Q0,17.5 3.8,17.5 Q7.6,17.5 7.6,13.5 L7.6,11.6 Q7.6,7.6 3.8,7.6 L0.5,7.6"/>
</g>
<line x1="630.50" y1="660.00" x2="630.50" y2="721.30" stroke="#3a3a3a" stroke-width="1.0" />
<line x1="797.50" y1="664.00" x2="797.50" y2="721.30" stroke="#3a3a3a" stroke-width="1.0" />
<line x1="630.50" y1="714.50" x2="797.50" y2="714.50" stroke="#3a3a3a" stroke-width="1.0" />
<polygon points="630.50,714.50 649.50,717.50 646.00,714.50 649.50,711.50" fill="#000"/>
<polygon points="797.50,714.50 778.50,711.50 782.00,714.50 778.50,717.50" fill="#000"/>
<g transform="translate(714.00,704.80) rotate(0) scale(1.0) translate(-18.78,0) matrix(1,0,-0.34,1,5.950,-18.050)" fill="none" stroke="#000" stroke-width="1.15" stroke-linecap="round" stroke-linejoin="round">
<path transform="translate(0.00,0)" d="M8.2,0 L0.8,0 L0.8,7.4 L3.8,7.4 Q7.6,7.4 7.6,12.2 Q7.6,17.5 3.4,17.5 L0,17.5"/>
<path transform="translate(12.00,0)" d="M0,3.8 Q0.3,0 3.8,0 Q7.6,0 7.6,3.6 Q7.6,6.5 4.5,10.5 L0,17.5 L7.6,17.5"/>
<path transform="translate(24.00,0)" d="M7.6,4 Q7.6,0 3.8,0 Q0,0 0,4 L0,6 Q0,10 3.8,10 L7.199999999999999,10 M7.6,4 L7.6,8 Q7.6,15 1.2,17.5"/>
</g>
<line x1="613.50" y1="244.00" x2="613.50" y2="752.00" stroke="#3a3a3a" stroke-width="1.0" />
<line x1="817.50" y1="590.00" x2="817.50" y2="752.00" stroke="#3a3a3a" stroke-width="1.0" />
<line x1="613.50" y1="744.50" x2="817.50" y2="744.50" stroke="#3a3a3a" stroke-width="1.0" />
<polygon points="613.50,744.50 632.50,747.50 629.00,744.50 632.50,741.50" fill="#000"/>
<polygon points="817.50,744.50 798.50,741.50 802.00,744.50 798.50,747.50" fill="#000"/>
<g transform="translate(714.50,734.80) rotate(0) scale(1.0) translate(-19.08,0) matrix(1,0,-0.34,1,5.950,-18.050)" fill="none" stroke="#000" stroke-width="1.15" stroke-linecap="round" stroke-linejoin="round">
<path transform="translate(0.00,0)" d="M7.2,0 Q0,2.5 0,10 L0,13.5 Q0,17.5 3.8,17.5 Q7.6,17.5 7.6,13.5 L7.6,11.6 Q7.6,7.6 3.8,7.6 L0.5,7.6"/>
<path transform="translate(12.00,0)" d="M4.2,0 L0,13.30 L9,13.30 M5.8,8.75 L5.8,17.5"/>
<path transform="translate(24.60,0)" d="M7.2,0 Q0,2.5 0,10 L0,13.5 Q0,17.5 3.8,17.5 Q7.6,17.5 7.6,13.5 L7.6,11.6 Q7.6,7.6 3.8,7.6 L0.5,7.6"/>
</g>
</g>
<g id="back">
<line x1="961.00" y1="158.50" x2="1283.80" y2="158.50" stroke="#000" stroke-width="2.53" />
<line x1="961.90" y1="158.50" x2="961.90" y2="597.40" stroke="#000" stroke-width="2.07" />
<line x1="977.70" y1="158.50" x2="977.70" y2="597.40" stroke="#000" stroke-width="2.07" />
<line x1="961.90" y1="597.40" x2="977.70" y2="597.40" stroke="#000" stroke-width="1.72" />
<rect x="972.00" y="154.80" width="3.00" height="3.20" fill="#000"/>
<path d="M964.2,597.4 L964.2,612.5 L975.4,612.5 L975.4,597.4" stroke="#000" stroke-width="1.72" fill="none" />
<line x1="964.20" y1="606.50" x2="975.40" y2="606.50" stroke="#000" stroke-width="1.38" />
<path d="M970,612.5 L970,615 L980,615.7" stroke="#000" stroke-width="1.61" fill="none" />
<rect x="978.00" y="169.20" width="5.60" height="5.00" fill="#000"/>
<circle cx="983.60" cy="171.70" r="2.60" fill="#000"/>
<line x1="1015.50" y1="166.30" x2="1029.00" y2="166.30" stroke="#000" stroke-width="2.18" />
<line x1="1030.60" y1="226.00" x2="978.70" y2="363.00" stroke="#000" stroke-width="1.84" />
<path d="M1032.3,223 L1026.6,301 L1004.6,368.6" stroke="#000" stroke-width="1.84" fill="none" />
<line x1="978.20" y1="368.20" x2="1004.60" y2="368.20" stroke="#000" stroke-width="1.61" />
<path d="M1032.3,223 L1029.5,229" stroke="#000" stroke-width="1.72" fill="none" />
<line x1="1005.60" y1="368.00" x2="1005.60" y2="622.00" stroke="#000" stroke-width="2.07" />
<circle cx="1027.30" cy="206.80" r="3.10" stroke="#000" stroke-width="1.61" fill="none"/>
<circle cx="1059.10" cy="206.80" r="3.10" stroke="#000" stroke-width="1.61" fill="none"/>
<path d="M1064.9,222.6 L1064.9,207.3 L1082.8,207.3" stroke="#000" stroke-width="1.72" fill="none" />
<line x1="961.90" y1="444.20" x2="957.00" y2="444.20" stroke="#000" stroke-width="1.61" />
<line x1="961.90" y1="478.80" x2="957.00" y2="478.80" stroke="#000" stroke-width="1.61" />
<circle cx="954.60" cy="445.40" r="2.80" stroke="#000" stroke-width="2.3" fill="none"/>
<circle cx="954.60" cy="477.60" r="2.80" stroke="#000" stroke-width="2.3" fill="none"/>
<circle cx="954.60" cy="445.40" r="1.20" fill="#000"/>
<circle cx="954.60" cy="477.60" r="1.20" fill="#000"/>
<path d="M952.3,447.4 Q958.5,461.5 952.3,475.6" stroke="#000" stroke-width="1.72" fill="none" />
<path d="M956.6,447 Q961.4,461.5 956.6,476" stroke="#000" stroke-width="1.38" fill="none" />
<line x1="980.60" y1="372.00" x2="980.60" y2="600.00" stroke="#000" stroke-width="1.0" />
<path d="M981.5,405.5 L988.6,405.5 L988.6,414 L981.5,414" stroke="#000" stroke-width="1.61" fill="none" />
<line x1="983.00" y1="409.00" x2="988.00" y2="409.00" stroke="#000" stroke-width="1.0" />
<line x1="988.40" y1="414.00" x2="988.40" y2="441.00" stroke="#000" stroke-width="1.49" />
<path d="M979.4,590 L988.6,590 L988.6,482" stroke="#000" stroke-width="1.49" fill="none" />
<path d="M1000.6,597 L1000.6,426.6 Q997,425.6 994,429 Q991.8,436.5 990,440.6 L984,442.5" stroke="#000" stroke-width="1.72" fill="none" />
<path d="M984,477 L988.9,477 Q991.3,478 991.3,482 L991.3,595 Q992,601.4 996,601.4 Q1000.6,601.4 1000.6,596" stroke="#000" stroke-width="1.72" fill="none" />
<path d="M994.4,448 L994.4,476" stroke="#000" stroke-width="1.0" fill="none" />
<circle cx="980.80" cy="444.40" r="2.50" stroke="#000" stroke-width="2.18" fill="none"/>
<circle cx="980.80" cy="477.40" r="2.50" stroke="#000" stroke-width="2.18" fill="none"/>
<path d="M979.4,446.5 Q976.6,461.5 979.4,477" stroke="#000" stroke-width="1.49" fill="none" />
<circle cx="987.40" cy="461.50" r="1.30" fill="#000"/>
<circle cx="984.50" cy="444.50" r="1.40" fill="#000"/>
<circle cx="984.50" cy="479.00" r="1.40" fill="#000"/>
<circle cx="1000.00" cy="405.20" r="1.10" fill="#000"/>
<path d="M962.9,662.7 L962.9,621.8 Q962.9,615.7 969,615.7 L983,615.7" stroke="#000" stroke-width="2.07" fill="none" />
<line x1="966.30" y1="621.00" x2="966.30" y2="662.00" stroke="#000" stroke-width="1.0" />
<line x1="982.70" y1="623.00" x2="982.70" y2="662.70" stroke="#000" stroke-width="2.07" />
<line x1="986.40" y1="623.00" x2="986.40" y2="662.70" stroke="#000" stroke-width="1.38" />
<line x1="1282.90" y1="158.50" x2="1282.90" y2="597.40" stroke="#000" stroke-width="2.07" />
<line x1="1267.10" y1="158.50" x2="1267.10" y2="597.40" stroke="#000" stroke-width="2.07" />
<line x1="1282.90" y1="597.40" x2="1267.10" y2="597.40" stroke="#000" stroke-width="1.72" />
<rect x="1269.80" y="154.80" width="3.00" height="3.20" fill="#000"/>
<path d="M1280.6000000000001,597.4 L1280.6000000000001,612.5 L1269.4,612.5 L1269.4,597.4" stroke="#000" stroke-width="1.72" fill="none" />
<line x1="1280.60" y1="606.50" x2="1269.40" y2="606.50" stroke="#000" stroke-width="1.38" />
<path d="M1274.8000000000002,612.5 L1274.8000000000002,615 L1264.8000000000002,615.7" stroke="#000" stroke-width="1.61" fill="none" />
<rect x="1261.20" y="169.20" width="5.60" height="5.00" fill="#000"/>
<circle cx="1261.20" cy="171.70" r="2.60" fill="#000"/>
<line x1="1229.30" y1="166.30" x2="1215.80" y2="166.30" stroke="#000" stroke-width="2.18" />
<line x1="1214.20" y1="226.00" x2="1266.10" y2="363.00" stroke="#000" stroke-width="1.84" />
<path d="M1212.5000000000002,223 L1218.2000000000003,301 L1240.2000000000003,368.6" stroke="#000" stroke-width="1.84" fill="none" />
<line x1="1266.60" y1="368.20" x2="1240.20" y2="368.20" stroke="#000" stroke-width="1.61" />
<path d="M1212.5000000000002,223 L1215.3000000000002,229" stroke="#000" stroke-width="1.72" fill="none" />
<line x1="1239.20" y1="368.00" x2="1239.20" y2="622.00" stroke="#000" stroke-width="2.07" />
<circle cx="1217.50" cy="206.80" r="3.10" stroke="#000" stroke-width="1.61" fill="none"/>
<circle cx="1185.70" cy="206.80" r="3.10" stroke="#000" stroke-width="1.61" fill="none"/>
<path d="M1179.9,222.6 L1179.9,207.3 L1162.0000000000002,207.3" stroke="#000" stroke-width="1.72" fill="none" />
<line x1="1282.90" y1="444.20" x2="1287.80" y2="444.20" stroke="#000" stroke-width="1.61" />
<line x1="1282.90" y1="478.80" x2="1287.80" y2="478.80" stroke="#000" stroke-width="1.61" />
<circle cx="1290.20" cy="445.40" r="2.80" stroke="#000" stroke-width="2.3" fill="none"/>
<circle cx="1290.20" cy="477.60" r="2.80" stroke="#000" stroke-width="2.3" fill="none"/>
<circle cx="1290.20" cy="445.40" r="1.20" fill="#000"/>
<circle cx="1290.20" cy="477.60" r="1.20" fill="#000"/>
<path d="M1292.5000000000002,447.4 Q1286.3000000000002,461.5 1292.5000000000002,475.6" stroke="#000" stroke-width="1.72" fill="none" />
<path d="M1288.2000000000003,447 Q1283.4,461.5 1288.2000000000003,476" stroke="#000" stroke-width="1.38" fill="none" />
<line x1="1264.20" y1="372.00" x2="1264.20" y2="600.00" stroke="#000" stroke-width="1.0" />
<path d="M1263.3000000000002,405.5 L1256.2000000000003,405.5 L1256.2000000000003,414 L1263.3000000000002,414" stroke="#000" stroke-width="1.61" fill="none" />
<line x1="1261.80" y1="409.00" x2="1256.80" y2="409.00" stroke="#000" stroke-width="1.0" />
<line x1="1256.40" y1="414.00" x2="1256.40" y2="441.00" stroke="#000" stroke-width="1.49" />
<path d="M1265.4,590 L1256.2000000000003,590 L1256.2000000000003,482" stroke="#000" stroke-width="1.49" fill="none" />
<path d="M1244.2000000000003,597 L1244.2000000000003,426.6 Q1247.8000000000002,425.6 1250.8000000000002,429 Q1253.0000000000002,436.5 1254.8000000000002,440.6 L1260.8000000000002,442.5" stroke="#000" stroke-width="1.72" fill="none" />
<path d="M1260.8000000000002,477 L1255.9,477 Q1253.5000000000002,478 1253.5000000000002,482 L1253.5000000000002,595 Q1252.8000000000002,601.4 1248.8000000000002,601.4 Q1244.2000000000003,601.4 1244.2000000000003,596" stroke="#000" stroke-width="1.72" fill="none" />
<path d="M1250.4,448 L1250.4,476" stroke="#000" stroke-width="1.0" fill="none" />
<circle cx="1264.00" cy="444.40" r="2.50" stroke="#000" stroke-width="2.18" fill="none"/>
<circle cx="1264.00" cy="477.40" r="2.50" stroke="#000" stroke-width="2.18" fill="none"/>
<path d="M1265.4,446.5 Q1268.2000000000003,461.5 1265.4,477" stroke="#000" stroke-width="1.49" fill="none" />
<circle cx="1257.40" cy="461.50" r="1.30" fill="#000"/>
<circle cx="1260.30" cy="444.50" r="1.40" fill="#000"/>
<circle cx="1260.30" cy="479.00" r="1.40" fill="#000"/>
<circle cx="1244.80" cy="405.20" r="1.10" fill="#000"/>
<path d="M1281.9,662.7 L1281.9,621.8 Q1281.9,615.7 1275.8000000000002,615.7 L1261.8000000000002,615.7" stroke="#000" stroke-width="2.07" fill="none" />
<line x1="1278.50" y1="621.00" x2="1278.50" y2="662.00" stroke="#000" stroke-width="1.0" />
<line x1="1262.10" y1="623.00" x2="1262.10" y2="662.70" stroke="#000" stroke-width="2.07" />
<line x1="1258.40" y1="623.00" x2="1258.40" y2="662.70" stroke="#000" stroke-width="1.38" />
<line x1="1032.30" y1="223.00" x2="1082.80" y2="223.00" stroke="#000" stroke-width="2.07" />
<line x1="1162.00" y1="223.00" x2="1212.50" y2="223.00" stroke="#000" stroke-width="2.07" />
<line x1="1026.60" y1="300.60" x2="1218.20" y2="300.60" stroke="#000" stroke-width="1.84" />
<line x1="1066.60" y1="301.60" x2="1084.00" y2="301.60" stroke="#000" stroke-width="2.76" />
<line x1="1114.00" y1="301.60" x2="1131.30" y2="301.60" stroke="#000" stroke-width="2.76" />
<line x1="1161.40" y1="301.60" x2="1178.70" y2="301.60" stroke="#000" stroke-width="2.76" />
<circle cx="1090.30" cy="174.90" r="3.10" stroke="#000" stroke-width="1.61" fill="none"/>
<circle cx="1122.10" cy="174.90" r="3.10" stroke="#000" stroke-width="1.61" fill="none"/>
<circle cx="1153.70" cy="174.90" r="3.10" stroke="#000" stroke-width="1.61" fill="none"/>
<circle cx="1122.10" cy="175.50" r="1.40" fill="#000"/>
<path d="M1082.8,196.6 L1082.8,247 A39.6,29.2 0 0 0 1162,247 L1162,196.6 Z" stroke="#000" stroke-width="2.07" fill="none" />
<path d="M1082.8,234.6 A39.6,9.2 0 0 0 1162,234.6" stroke="#000" stroke-width="1.84" fill="none" />
<path d="M1082.8,224.6 A54,37 0 0 0 1068.6,252 L1068.6,262 A54,37 0 0 0 1176.4,262 L1176.4,252 A54,37 0 0 0 1162,224.6" stroke="#000" stroke-width="1.95" fill="none" />
<path d="M1068.6,253 A54,35.4 0 0 0 1176.4,253" stroke="#000" stroke-width="1.61" fill="none" />
<path d="M1083,276.2 A54,35.4 0 0 0 1162,276.2" stroke="#000" stroke-width="3.45" fill="none" />
<path d="M1082.8,233 Q1078.6,240 1078.6,247 A44,32.4 0 0 0 1166.4,247 Q1166.4,240 1162,233" stroke="#000" stroke-width="1.84" fill="none" />
<path d="M1090,268.5 A44,32.4 0 0 0 1155,268.5" stroke="#000" stroke-width="2.99" fill="none" />
<circle cx="1084.50" cy="275.30" r="2.60" fill="#000"/>
<circle cx="1160.30" cy="275.30" r="2.60" fill="#000"/>
<circle cx="1090.30" cy="281.90" r="2.60" fill="#000"/>
<circle cx="1154.50" cy="281.90" r="2.60" fill="#000"/>
<rect x="1082.60" y="271.50" width="4.00" height="5.50" fill="#000"/>
<rect x="1158.20" y="271.50" width="4.00" height="5.50" fill="#000"/>
<line x1="1050.20" y1="236.00" x2="1050.20" y2="288.50" stroke="#000" stroke-width="2.3" />
<rect x="1047.60" y="243.00" width="5.00" height="9.50" fill="#000"/>
<rect x="1055.60" y="240.40" width="3.00" height="12.60" fill="#000"/>
<line x1="1052.00" y1="246.50" x2="1064.60" y2="246.50" stroke="#000" stroke-width="2.53" />
<path d="M1058,253 L1058,260 L1068,260" stroke="#000" stroke-width="2.07" fill="none" />
<line x1="1058.00" y1="256.60" x2="1068.00" y2="256.60" stroke="#000" stroke-width="1.0" />
<line x1="1050.20" y1="268.00" x2="1067.00" y2="268.00" stroke="#000" stroke-width="1.61" />
<path d="M1048,271.6 L1048,285 M1052.6,271.6 L1052.6,285 M1048,271.6 L1052.6,271.6" stroke="#000" stroke-width="1.72" fill="none" />
<path d="M1050.2,282.5 L1066,282.5 L1066,262" stroke="#000" stroke-width="1.61" fill="none" />
<line x1="1067.60" y1="264.00" x2="1067.60" y2="272.00" stroke="#000" stroke-width="2.99" />
<line x1="1066.00" y1="282.50" x2="1079.00" y2="283.00" stroke="#000" stroke-width="1.61" />
<circle cx="1050.20" cy="288.00" r="1.80" fill="#000"/>
<rect x="1057.40" y="327.80" width="19.50" height="27.50" stroke="#000" stroke-width="2.53" fill="none"/>
<line x1="1058.90" y1="330.40" x2="1075.40" y2="330.40" stroke="#000" stroke-width="1.38" />
<rect x="1112.80" y="327.80" width="19.50" height="27.50" stroke="#000" stroke-width="2.53" fill="none"/>
<line x1="1114.30" y1="330.40" x2="1130.80" y2="330.40" stroke="#000" stroke-width="1.38" />
<rect x="1168.00" y="327.80" width="19.50" height="27.50" stroke="#000" stroke-width="2.53" fill="none"/>
<line x1="1169.50" y1="330.40" x2="1186.00" y2="330.40" stroke="#000" stroke-width="1.38" />
<circle cx="1069.90" cy="362.70" r="1.80" fill="#000"/>
<circle cx="1175.40" cy="362.70" r="1.80" fill="#000"/>
<line x1="1023.90" y1="392.00" x2="1023.90" y2="607.40" stroke="#000" stroke-width="2.42" stroke-linecap="round"/>
<line x1="1052.40" y1="392.00" x2="1052.40" y2="607.40" stroke="#000" stroke-width="2.42" stroke-linecap="round"/>
<line x1="1080.90" y1="392.00" x2="1080.90" y2="607.40" stroke="#000" stroke-width="2.42" stroke-linecap="round"/>
<line x1="1108.70" y1="392.00" x2="1108.70" y2="607.40" stroke="#000" stroke-width="2.42" stroke-linecap="round"/>
<line x1="1136.90" y1="392.00" x2="1136.90" y2="607.40" stroke="#000" stroke-width="2.42" stroke-linecap="round"/>
<line x1="1164.70" y1="392.00" x2="1164.70" y2="607.40" stroke="#000" stroke-width="2.42" stroke-linecap="round"/>
<line x1="1193.20" y1="392.00" x2="1193.20" y2="607.40" stroke="#000" stroke-width="2.42" stroke-linecap="round"/>
<line x1="1221.00" y1="392.00" x2="1221.00" y2="607.40" stroke="#000" stroke-width="2.42" stroke-linecap="round"/>
<circle cx="1048.00" cy="405.60" r="1.50" fill="#000"/>
<circle cx="1197.00" cy="405.60" r="1.50" fill="#000"/>
<rect x="1072.60" y="512.00" width="100.60" height="16.30" stroke="#000" stroke-width="2.3" fill="#fff"/>
<line x1="1075.00" y1="514.60" x2="1075.00" y2="526.00" stroke="#000" stroke-width="0.9" />
<path d="M1093.4,528.4 L1093.4,628.4 L1103.2,628.4 L1103.2,528.4" stroke="#000" stroke-width="2.07" fill="#fff" />
<line x1="1100.40" y1="529.00" x2="1100.40" y2="627.00" stroke="#000" stroke-width="0.9" />
<line x1="982.70" y1="622.80" x2="1262.60" y2="622.80" stroke="#000" stroke-width="2.76" />
<line x1="962.90" y1="662.70" x2="1282.00" y2="662.70" stroke="#000" stroke-width="2.53" />
<line x1="1022.00" y1="668.40" x2="1191.60" y2="668.40" stroke="#000" stroke-width="1.72" />
<line x1="1022.00" y1="662.70" x2="1022.00" y2="668.40" stroke="#000" stroke-width="1.38" />
<path d="M1195,663 L1195,665.5 L1191.6,668.4" stroke="#000" stroke-width="1.38" fill="none" />
<line x1="1024.00" y1="665.60" x2="1190.00" y2="665.60" stroke="#000" stroke-width="0.8" />
<circle cx="1100.00" cy="664.40" r="1.20" fill="#000"/>
<line x1="1023.00" y1="623.00" x2="1023.00" y2="662.70" stroke="#000" stroke-width="2.3" />
<line x1="1044.70" y1="623.00" x2="1044.70" y2="662.70" stroke="#000" stroke-width="2.3" />
<line x1="1029.60" y1="623.00" x2="1029.60" y2="663.00" stroke="#000" stroke-width="1.38" />
<line x1="1037.50" y1="623.00" x2="1037.50" y2="663.00" stroke="#000" stroke-width="1.38" />
<line x1="1023.00" y1="645.00" x2="1029.60" y2="645.00" stroke="#000" stroke-width="1.38" />
<line x1="1037.50" y1="645.00" x2="1044.70" y2="645.00" stroke="#000" stroke-width="1.38" />
<line x1="1023.00" y1="649.00" x2="1029.60" y2="649.00" stroke="#000" stroke-width="1.0" />
<line x1="1037.50" y1="649.00" x2="1044.70" y2="649.00" stroke="#000" stroke-width="1.0" />
<line x1="1200.00" y1="623.00" x2="1200.00" y2="662.70" stroke="#000" stroke-width="2.3" />
<line x1="1221.70" y1="623.00" x2="1221.70" y2="662.70" stroke="#000" stroke-width="2.3" />
<line x1="1207.20" y1="623.00" x2="1207.20" y2="663.00" stroke="#000" stroke-width="1.38" />
<line x1="1215.00" y1="623.00" x2="1215.00" y2="663.00" stroke="#000" stroke-width="1.38" />
<line x1="1200.00" y1="645.00" x2="1207.20" y2="645.00" stroke="#000" stroke-width="1.38" />
<line x1="1215.00" y1="645.00" x2="1221.70" y2="645.00" stroke="#000" stroke-width="1.38" />
<line x1="1200.00" y1="649.00" x2="1207.20" y2="649.00" stroke="#000" stroke-width="1.0" />
<line x1="1215.00" y1="649.00" x2="1221.70" y2="649.00" stroke="#000" stroke-width="1.0" />
<rect x="1045.60" y="624.00" width="23.40" height="13.40" stroke="#000" stroke-width="1.84" fill="none"/>
<circle cx="1055.50" cy="631.70" r="1.70" fill="#000"/>
<rect x="1046.00" y="623.00" width="23.00" height="3.00" fill="#000"/>
<path d="M1019.6,627 Q1016,628.6 1019,633 L1022,634.4" stroke="#000" stroke-width="1.61" fill="none" />
<path d="M1071,623 L1071,658 L1174.7,658 L1174.7,623" stroke="#000" stroke-width="1.84" fill="none" />
<line x1="1071.00" y1="655.00" x2="1104.00" y2="655.00" stroke="#000" stroke-width="1.0" />
<line x1="1128.00" y1="627.40" x2="1170.00" y2="627.40" stroke="#000" stroke-width="0.9" />
<circle cx="1122.60" cy="639.60" r="22.20" stroke="#000" stroke-width="2.3" fill="#fff"/>
<circle cx="1122.60" cy="639.60" r="20.20" stroke="#000" stroke-width="1.0" fill="none"/>
<line x1="1106.00" y1="650.60" x2="1139.40" y2="650.60" stroke="#000" stroke-width="1.49" />
<line x1="1104.00" y1="654.40" x2="1141.40" y2="654.40" stroke="#000" stroke-width="1.0" />
<rect x="959.70" y="673.30" width="27.20" height="3.70" fill="#000"/>
<rect x="970.10" y="663.50" width="6.40" height="9.80" stroke="#000" stroke-width="1.38" fill="#fff"/>
<line x1="973.30" y1="666.00" x2="973.30" y2="673.00" stroke="#000" stroke-width="0.8" />
<rect x="968.70" y="669.50" width="9.20" height="1.70" fill="#000"/>
<rect x="1020.30" y="673.30" width="27.20" height="3.70" fill="#000"/>
<rect x="1030.70" y="663.50" width="6.40" height="9.80" stroke="#000" stroke-width="1.38" fill="#fff"/>
<line x1="1033.90" y1="666.00" x2="1033.90" y2="673.00" stroke="#000" stroke-width="0.8" />
<rect x="1029.30" y="669.50" width="9.20" height="1.70" fill="#000"/>
<rect x="1197.30" y="673.30" width="27.20" height="3.70" fill="#000"/>
<rect x="1207.70" y="663.50" width="6.40" height="9.80" stroke="#000" stroke-width="1.38" fill="#fff"/>
<line x1="1210.90" y1="666.00" x2="1210.90" y2="673.00" stroke="#000" stroke-width="0.8" />
<rect x="1206.30" y="669.50" width="9.20" height="1.70" fill="#000"/>
<rect x="1258.90" y="673.30" width="27.20" height="3.70" fill="#000"/>
<rect x="1269.30" y="663.50" width="6.40" height="9.80" stroke="#000" stroke-width="1.38" fill="#fff"/>
<line x1="1272.50" y1="666.00" x2="1272.50" y2="673.00" stroke="#000" stroke-width="0.8" />
<rect x="1267.90" y="669.50" width="9.20" height="1.70" fill="#000"/>
<line x1="1162.00" y1="196.50" x2="1355.80" y2="196.50" stroke="#3a3a3a" stroke-width="1.0" />
<line x1="1285.60" y1="675.50" x2="1356.00" y2="675.50" stroke="#3a3a3a" stroke-width="1.0" />
<line x1="1347.50" y1="196.50" x2="1347.50" y2="675.50" stroke="#3a3a3a" stroke-width="1.0" />
<polygon points="1347.50,196.50 1344.50,215.50 1347.50,212.00 1350.50,215.50" fill="#000"/>
<polygon points="1347.50,675.50 1350.50,656.50 1347.50,660.00 1344.50,656.50" fill="#000"/>
<g transform="translate(1337.80,437.50) rotate(-90) scale(1.0) translate(-26.18,0) matrix(1,0,-0.34,1,5.950,-18.050)" fill="none" stroke="#000" stroke-width="1.15" stroke-linecap="round" stroke-linejoin="round">
<path transform="translate(0.00,0)" d="M0,4.8 L4.3,0 L4.3,17.5"/>
<path transform="translate(8.40,0)" d="M8.2,0 L0.8,0 L0.8,7.4 L3.8,7.4 Q7.6,7.4 7.6,12.2 Q7.6,17.5 3.4,17.5 L0,17.5"/>
<path transform="translate(20.40,0)" d="M0,3.8 Q0.3,0 3.8,0 Q7.6,0 7.6,3.6 Q7.6,6.5 4.5,10.5 L0,17.5 L7.6,17.5"/>
<path transform="translate(32.40,0)" d="M0,4.8 L4.3,0 L4.3,17.5"/>
<path transform="translate(40.80,0)" d="M3,0.3 L3,6.3 M0.4,1.8 L5.6,4.8 M5.6,1.8 L0.4,4.8"/>
</g>
<line x1="1283.70" y1="596.50" x2="1330.70" y2="596.50" stroke="#3a3a3a" stroke-width="1.0" />
<line x1="1322.50" y1="596.50" x2="1322.50" y2="675.50" stroke="#3a3a3a" stroke-width="1.0" />
<polygon points="1322.50,596.50 1319.50,615.50 1322.50,612.00 1325.50,615.50" fill="#000"/>
<polygon points="1322.50,675.50 1325.50,656.50 1322.50,660.00 1319.50,656.50" fill="#000"/>
<g transform="translate(1312.80,636.00) rotate(-90) scale(1.0) translate(-17.12,0) matrix(1,0,-0.34,1,5.950,-18.050)" fill="none" stroke="#000" stroke-width="1.15" stroke-linecap="round" stroke-linejoin="round">
<path transform="translate(0.00,0)" d="M0,3.8 Q0.3,0 3.8,0 Q7.6,0 7.6,3.6 Q7.6,6.5 4.5,10.5 L0,17.5 L7.6,17.5"/>
<path transform="translate(12.00,0)" d="M8.2,0 L0.8,0 L0.8,7.4 L3.8,7.4 Q7.6,7.4 7.6,12.2 Q7.6,17.5 3.4,17.5 L0,17.5"/>
<path transform="translate(24.00,0)" d="M0,4.8 L4.3,0 L4.3,17.5"/>
</g>
<line x1="922.90" y1="639.50" x2="1153.00" y2="639.50" stroke="#3a3a3a" stroke-width="1.0" />
<line x1="922.90" y1="675.50" x2="960.00" y2="675.50" stroke="#3a3a3a" stroke-width="1.0" />
<line x1="931.50" y1="613.80" x2="931.50" y2="743.40" stroke="#3a3a3a" stroke-width="1.0" />
<polygon points="931.00,639.70 934.00,620.70 931.00,624.20 928.00,620.70" fill="#000"/>
<polygon points="931.00,675.20 928.00,694.20 931.00,690.70 934.00,694.20" fill="#000"/>
<g transform="translate(921.30,719.50) rotate(-90) scale(1.0) translate(-15.17,0) matrix(1,0,-0.34,1,5.950,-18.050)" fill="none" stroke="#000" stroke-width="1.15" stroke-linecap="round" stroke-linejoin="round">
<path transform="translate(0.00,0)" d="M0,4.8 L4.3,0 L4.3,17.5"/>
<path transform="translate(8.40,0)" d="M0,4.8 L4.3,0 L4.3,17.5"/>
<path transform="translate(16.80,0)" d="M0.6,0 L3.8,0 Q7.6,0 7.6,4 Q7.6,8 3.3,8.1 Q7.6,8.2 7.6,12.6 Q7.6,17.5 3.8,17.5 L0,17.5"/>
</g>
<line x1="961.50" y1="600.00" x2="961.50" y2="721.30" stroke="#3a3a3a" stroke-width="1.0" />
<line x1="1122.50" y1="609.00" x2="1122.50" y2="771.60" stroke="#3a3a3a" stroke-width="1.0" />
<line x1="961.50" y1="714.50" x2="1122.50" y2="714.50" stroke="#3a3a3a" stroke-width="1.0" />
<polygon points="961.50,714.50 980.50,717.50 977.00,714.50 980.50,711.50" fill="#000"/>
<polygon points="1122.50,714.50 1103.50,711.50 1107.00,714.50 1103.50,717.50" fill="#000"/>
<g transform="translate(1042.50,704.80) rotate(0) scale(1.0) translate(-25.73,0) matrix(1,0,-0.34,1,5.950,-18.050)" fill="none" stroke="#000" stroke-width="1.15" stroke-linecap="round" stroke-linejoin="round">
<path transform="translate(0.00,0)" d="M8.2,0 L0.8,0 L0.8,7.4 L3.8,7.4 Q7.6,7.4 7.6,12.2 Q7.6,17.5 3.4,17.5 L0,17.5"/>
<path transform="translate(12.00,0)" d="M0,4.8 L4.3,0 L4.3,17.5"/>
<path transform="translate(20.40,0)" d="M0,4 Q0,0 3.8,0 Q7.6,0 7.6,4 L7.6,13.5 Q7.6,17.5 3.8,17.5 Q0,17.5 0,13.5 Z"/>
<path transform="translate(32.40,0)" d="M1.2,16.5 L0.2,20.5"/>
<path transform="translate(37.90,0)" d="M8.2,0 L0.8,0 L0.8,7.4 L3.8,7.4 Q7.6,7.4 7.6,12.2 Q7.6,17.5 3.4,17.5 L0,17.5"/>
</g>
<polygon points="1122.6,715.6 1118.4,743 1122.6,739 1126.8,743" fill="#000"/>
<path d="M1133.8,759.4 L1143.7,725 L1153.6,759.4 M1137,747.6 L1150.4,747.6" stroke="#000" stroke-width="2.3" fill="none" stroke-linejoin="miter"/>
<path d="M1107.4,624.6 L1198.2,714.3 L1264.5,714.3" stroke="#222" stroke-width="0.9" fill="none" />
<polygon points="1122.6,639.6 1108.2,627.6 1110.6,625.2" fill="#000"/>
<polygon points="1122.6,639.6 1137,651.6 1134.6,654" fill="#000"/>
<line x1="1121.20" y1="640.80" x2="1124.00" y2="638.20" stroke="#fff" stroke-width="0.9" />
<g transform="translate(1232.50,704.30) rotate(0) scale(1.0) translate(-22.78,0) matrix(1,0,-0.34,1,5.950,-18.050)" fill="none" stroke="#000" stroke-width="1.15" stroke-linecap="round" stroke-linejoin="round">
<path transform="translate(0.00,0)" d="M-0.6,17.5 L5.6,0 M-2.4,9.05 a5.1,5.1 0 1 0 10.2,0 a5.1,5.1 0 1 0 -10.2,0"/>
<path transform="translate(11.60,0)" d="M0,4.8 L4.3,0 L4.3,17.5"/>
<path transform="translate(20.00,0)" d="M0,3.8 Q0.3,0 3.8,0 Q7.6,0 7.6,3.6 Q7.6,6.5 4.5,10.5 L0,17.5 L7.6,17.5"/>
<path transform="translate(32.00,0)" d="M8.2,0 L0.8,0 L0.8,7.4 L3.8,7.4 Q7.6,7.4 7.6,12.2 Q7.6,17.5 3.4,17.5 L0,17.5"/>
</g>
</g>
<g id="top">
<line x1="189.60" y1="848.90" x2="268.00" y2="848.90" stroke="#000" stroke-width="2.53" />
<line x1="346.00" y1="848.90" x2="424.00" y2="848.90" stroke="#000" stroke-width="2.53" />
<line x1="189.60" y1="848.90" x2="162.60" y2="969.00" stroke="#000" stroke-width="2.3" />
<path d="M209.4,848.9 L216.9,925.9 L164.3,970" stroke="#000" stroke-width="2.3" fill="none" />
<line x1="209.40" y1="839.60" x2="209.40" y2="848.90" stroke="#000" stroke-width="2.53" />
<line x1="161.20" y1="867.60" x2="183.60" y2="872.60" stroke="#000" stroke-width="2.76" stroke-linecap="round"/>
<circle cx="184.60" cy="868.50" r="1.60" fill="#000"/>
<path d="M146.6,986 L146.6,910.2 L162.4,910.2 L162.4,986" stroke="#000" stroke-width="2.3" fill="none" />
<line x1="148.80" y1="912.00" x2="148.80" y2="984.00" stroke="#000" stroke-width="0.9" />
<circle cx="158.00" cy="936.60" r="1.70" fill="#000"/>
<circle cx="166.00" cy="940.00" r="1.30" fill="#000"/>
<line x1="163.00" y1="920.00" x2="170.60" y2="922.60" stroke="#000" stroke-width="1.84" />
<path d="M145.6,950 Q144,958 145.6,966" stroke="#000" stroke-width="1.84" fill="none" />
<line x1="241.30" y1="926.00" x2="241.30" y2="972.90" stroke="#000" stroke-width="2.3" />
<path d="M149.8,986.4 L149.8,1005 Q150,1007.6 153,1007.8 L157,1007.8" stroke="#000" stroke-width="1.84" fill="none" />
<path d="M160.5,996.2 Q157.8,996.4 157.8,999 L157.8,1010.5 L161.4,1012 L161.4,1016.5" stroke="#000" stroke-width="1.84" fill="none" />
<circle cx="166.10" cy="1001.40" r="1.90" fill="#000"/>
<circle cx="159.50" cy="997.50" r="1.20" fill="#000"/>
<rect x="163.00" y="979.50" width="6.00" height="4.00" fill="#000"/>
<line x1="424.00" y1="848.90" x2="451.00" y2="969.00" stroke="#000" stroke-width="2.3" />
<path d="M404.20000000000005,848.9 L396.70000000000005,925.9 L449.3,970" stroke="#000" stroke-width="2.3" fill="none" />
<line x1="404.20" y1="839.60" x2="404.20" y2="848.90" stroke="#000" stroke-width="2.53" />
<line x1="452.40" y1="867.60" x2="430.00" y2="872.60" stroke="#000" stroke-width="2.76" stroke-linecap="round"/>
<circle cx="429.00" cy="868.50" r="1.60" fill="#000"/>
<path d="M467.0,986 L467.0,910.2 L451.20000000000005,910.2 L451.20000000000005,986" stroke="#000" stroke-width="2.3" fill="none" />
<line x1="464.80" y1="912.00" x2="464.80" y2="984.00" stroke="#000" stroke-width="0.9" />
<circle cx="455.60" cy="936.60" r="1.70" fill="#000"/>
<circle cx="447.60" cy="940.00" r="1.30" fill="#000"/>
<line x1="450.60" y1="920.00" x2="443.00" y2="922.60" stroke="#000" stroke-width="1.84" />
<path d="M468.0,950 Q469.6,958 468.0,966" stroke="#000" stroke-width="1.84" fill="none" />
<line x1="372.30" y1="926.00" x2="372.30" y2="972.90" stroke="#000" stroke-width="2.3" />
<path d="M463.8,986.4 L463.8,1005 Q463.6,1007.6 460.6,1007.8 L456.6,1007.8" stroke="#000" stroke-width="1.84" fill="none" />
<path d="M453.1,996.2 Q455.8,996.4 455.8,999 L455.8,1010.5 L452.20000000000005,1012 L452.20000000000005,1016.5" stroke="#000" stroke-width="1.84" fill="none" />
<circle cx="447.50" cy="1001.40" r="1.90" fill="#000"/>
<circle cx="454.10" cy="997.50" r="1.20" fill="#000"/>
<rect x="444.60" y="979.50" width="6.00" height="4.00" fill="#000"/>
<line x1="216.90" y1="925.90" x2="396.70" y2="925.90" stroke="#000" stroke-width="2.53" />
<line x1="165.20" y1="972.90" x2="448.40" y2="972.90" stroke="#000" stroke-width="2.53" />
<line x1="136.10" y1="986.40" x2="477.90" y2="986.40" stroke="#000" stroke-width="2.53" />
<line x1="212.20" y1="981.70" x2="401.80" y2="981.70" stroke="#000" stroke-width="1.49" />
<line x1="212.20" y1="983.80" x2="401.80" y2="983.80" stroke="#000" stroke-width="1.0" />
<line x1="212.20" y1="981.70" x2="212.20" y2="986.00" stroke="#000" stroke-width="1.38" />
<line x1="401.80" y1="981.70" x2="401.80" y2="986.00" stroke="#000" stroke-width="1.38" />
<line x1="160.00" y1="996.20" x2="453.60" y2="996.20" stroke="#000" stroke-width="1.95" />
<line x1="161.40" y1="1011.80" x2="452.20" y2="1011.80" stroke="#000" stroke-width="1.49" />
<line x1="161.40" y1="1016.30" x2="452.20" y2="1016.30" stroke="#000" stroke-width="2.53" />
<circle cx="307.60" cy="993.20" r="1.90" fill="#000"/>
<circle cx="307.60" cy="1001.40" r="1.90" fill="#000"/>
<rect x="273.20" y="1016.60" width="67.60" height="3.00" stroke="#000" stroke-width="1.38" fill="#bbb"/>
<circle cx="269.10" cy="950.30" r="22.20" stroke="#000" stroke-width="2.3" fill="none"/>
<circle cx="269.10" cy="950.30" r="20.20" stroke="#000" stroke-width="0.9" fill="none"/>
<circle cx="269.10" cy="950.30" r="18.40" stroke="#000" stroke-width="0.9" fill="none"/>
<circle cx="269.10" cy="950.30" r="16.40" stroke="#000" stroke-width="2.3" fill="none"/>
<circle cx="344.50" cy="950.30" r="22.20" stroke="#000" stroke-width="2.3" fill="none"/>
<circle cx="344.50" cy="950.30" r="20.20" stroke="#000" stroke-width="0.9" fill="none"/>
<circle cx="344.50" cy="950.30" r="18.40" stroke="#000" stroke-width="0.9" fill="none"/>
<circle cx="344.50" cy="950.30" r="16.40" stroke="#000" stroke-width="2.3" fill="none"/>
<path d="M257.5,941.5 L257.5,938.6 L261,938.6" stroke="#000" stroke-width="2.07" fill="none" />
<path d="M356,941.5 L356,938.6 L352.5,938.6" stroke="#000" stroke-width="2.07" fill="none" />
<path d="M256.4,848.9 L256.4,839.6 L268.6,839.6" stroke="#000" stroke-width="2.07" fill="none" />
<line x1="260.00" y1="841.00" x2="260.00" y2="848.00" stroke="#000" stroke-width="1.38" />
<path d="M357.3,848.9 L357.3,839.6 L345,839.6" stroke="#000" stroke-width="2.07" fill="none" />
<line x1="353.60" y1="841.00" x2="353.60" y2="848.00" stroke="#000" stroke-width="1.38" />
<line x1="236.60" y1="841.00" x2="236.60" y2="848.90" stroke="#000" stroke-width="2.3" />
<line x1="228.00" y1="847.00" x2="236.00" y2="847.00" stroke="#000" stroke-width="1.38" />
<path d="M265.1,849.4 A54.1,40.4 0 0 0 252.8,875 L252.8,887 A54.1,38.7 0 0 0 360.8,887 L360.8,875 A54.1,40.4 0 0 0 348.5,849.4" stroke="#000" stroke-width="2.3" fill="none" />
<path d="M252.8,875 A54.1,40.4 0 0 0 360.8,875" stroke="#000" stroke-width="1.72" fill="none" />
<path d="M266,901.6 A54.1,40.4 0 0 0 347.6,901.6" stroke="#000" stroke-width="3.68" fill="none" />
<path d="M270.6,846 A43.7,37 0 0 0 263.1,867 A43.7,37 0 0 0 350.5,867 A43.7,37 0 0 0 343,846" stroke="#000" stroke-width="2.18" fill="none" />
<path d="M264,873 A43.7,35 0 0 0 349.6,873" stroke="#000" stroke-width="1.49" fill="none" />
<circle cx="268.60" cy="901.90" r="2.70" fill="#000"/>
<circle cx="345.00" cy="901.90" r="2.70" fill="#000"/>
<circle cx="275.00" cy="909.40" r="2.70" fill="#000"/>
<circle cx="338.60" cy="909.40" r="2.70" fill="#000"/>
<path d="M269.2,864 L269.2,856 A37.6,40.4 0 0 1 344.4,856 L344.4,864 A37.6,29 0 0 1 269.2,864 Z" stroke="#000" stroke-width="2.99" fill="none" />
<path d="M271.4,872 A35.6,22.6 0 0 1 342.2,872" stroke="#000" stroke-width="2.07" fill="none" />
<path d="M275.5,876.6 A33,17 0 0 1 338.2,878" stroke="#000" stroke-width="2.76" fill="none" />
<rect x="361.00" y="848.60" width="22.40" height="3.80" fill="#000"/>
<path d="M376.6,849 L376.6,841 Q376.6,838.8 379,838.8 Q381.4,838.8 381.4,841 L381.4,849" stroke="#000" stroke-width="2.18" fill="none" />
<line x1="362.20" y1="852.00" x2="362.20" y2="872.60" stroke="#000" stroke-width="2.99" />
<line x1="380.40" y1="855.00" x2="380.40" y2="869.60" stroke="#000" stroke-width="5.29" stroke-linecap="round"/>
<line x1="364.00" y1="865.00" x2="377.60" y2="865.00" stroke="#999" stroke-width="1.61" />
<polygon points="361,881 379.6,871 381.6,874 381.6,883 376,884 362,883" fill="#000"/>
<polygon points="365,880 374,875.6 374,880" fill="#fff"/>
<line x1="379.40" y1="874.00" x2="379.40" y2="891.40" stroke="#000" stroke-width="3.91" stroke-linecap="round"/>
<line x1="372.40" y1="880.00" x2="372.40" y2="888.60" stroke="#000" stroke-width="3.68" stroke-linecap="round"/>
<rect x="360.60" y="866.60" width="3.20" height="6.80" fill="#000"/>
<line x1="306.50" y1="801.00" x2="306.50" y2="903.00" stroke="#3a3a3a" stroke-width="1.0" />
<line x1="280.00" y1="879.50" x2="333.60" y2="879.50" stroke="#3a3a3a" stroke-width="1.0" />
<circle cx="306.80" cy="879.60" r="2.10" fill="#000"/>
<line x1="146.50" y1="801.00" x2="146.50" y2="910.00" stroke="#3a3a3a" stroke-width="1.0" />
<line x1="146.50" y1="808.50" x2="306.50" y2="808.50" stroke="#3a3a3a" stroke-width="1.0" />
<polygon points="146.50,808.50 165.50,811.50 162.00,808.50 165.50,805.50" fill="#000"/>
<polygon points="306.50,808.50 287.50,805.50 291.00,808.50 287.50,811.50" fill="#000"/>
<g transform="translate(226.00,798.80) rotate(0) scale(1.0) translate(-18.78,0) matrix(1,0,-0.34,1,5.950,-18.050)" fill="none" stroke="#000" stroke-width="1.15" stroke-linecap="round" stroke-linejoin="round">
<path transform="translate(0.00,0)" d="M8.2,0 L0.8,0 L0.8,7.4 L3.8,7.4 Q7.6,7.4 7.6,12.2 Q7.6,17.5 3.4,17.5 L0,17.5"/>
<path transform="translate(12.00,0)" d="M0,4 Q0,0 3.8,0 Q7.6,0 7.6,4 L7.6,13.5 Q7.6,17.5 3.8,17.5 Q0,17.5 0,13.5 Z"/>
<path transform="translate(24.00,0)" d="M3.8,8 Q0.5,8 0.5,4 Q0.5,0 3.8,0 Q7.1,0 7.1,4 Q7.1,8 3.8,8 Q0,8 0,12.8 Q0,17.5 3.8,17.5 Q7.6,17.5 7.6,12.8 Q7.6,8 3.8,8"/>
</g>
<line x1="73.50" y1="855.50" x2="343.00" y2="855.50" stroke="#3a3a3a" stroke-width="1.0" />
<line x1="73.20" y1="1016.50" x2="162.40" y2="1016.50" stroke="#3a3a3a" stroke-width="1.0" />
<line x1="81.50" y1="855.50" x2="81.50" y2="1016.50" stroke="#3a3a3a" stroke-width="1.0" />
<polygon points="81.50,855.50 78.50,874.50 81.50,871.00 84.50,874.50" fill="#000"/>
<polygon points="81.50,1016.50 84.50,997.50 81.50,1001.00 78.50,997.50" fill="#000"/>
<g transform="translate(71.80,935.50) rotate(-90) scale(1.0) translate(-16.98,0) matrix(1,0,-0.34,1,5.950,-18.050)" fill="none" stroke="#000" stroke-width="1.15" stroke-linecap="round" stroke-linejoin="round">
<path transform="translate(0.00,0)" d="M8.2,0 L0.8,0 L0.8,7.4 L3.8,7.4 Q7.6,7.4 7.6,12.2 Q7.6,17.5 3.4,17.5 L0,17.5"/>
<path transform="translate(12.00,0)" d="M0,4.8 L4.3,0 L4.3,17.5"/>
<path transform="translate(20.40,0)" d="M0,3.8 Q0.3,0 3.8,0 Q7.6,0 7.6,3.6 Q7.6,6.5 4.5,10.5 L0,17.5 L7.6,17.5"/>
</g>
<line x1="114.50" y1="950.50" x2="298.60" y2="950.50" stroke="#3a3a3a" stroke-width="1.0" />
<line x1="316.00" y1="950.50" x2="373.00" y2="950.50" stroke="#3a3a3a" stroke-width="1.0" />
<line x1="121.50" y1="950.50" x2="121.50" y2="1016.50" stroke="#3a3a3a" stroke-width="1.0" />
<polygon points="121.50,950.50 118.50,969.50 121.50,966.00 124.50,969.50" fill="#000"/>
<polygon points="121.50,1016.50 124.50,997.50 121.50,1001.00 118.50,997.50" fill="#000"/>
<g transform="translate(111.80,983.00) rotate(-90) scale(1.0) translate(-16.98,0) matrix(1,0,-0.34,1,5.950,-18.050)" fill="none" stroke="#000" stroke-width="1.15" stroke-linecap="round" stroke-linejoin="round">
<path transform="translate(0.00,0)" d="M0,3.8 Q0.3,0 3.8,0 Q7.6,0 7.6,3.6 Q7.6,6.5 4.5,10.5 L0,17.5 L7.6,17.5"/>
<path transform="translate(12.00,0)" d="M0,4.8 L4.3,0 L4.3,17.5"/>
<path transform="translate(20.40,0)" d="M0,4 Q0,0 3.8,0 Q7.6,0 7.6,4 L7.6,13.5 Q7.6,17.5 3.8,17.5 Q0,17.5 0,13.5 Z"/>
</g>
<line x1="269.50" y1="920.00" x2="269.50" y2="1065.00" stroke="#3a3a3a" stroke-width="1.0" />
<line x1="344.50" y1="920.00" x2="344.50" y2="1065.00" stroke="#3a3a3a" stroke-width="1.0" />
<line x1="269.50" y1="1057.50" x2="344.50" y2="1057.50" stroke="#3a3a3a" stroke-width="1.0" />
<polygon points="269.50,1057.50 288.50,1060.50 285.00,1057.50 288.50,1054.50" fill="#000"/>
<polygon points="344.50,1057.50 325.50,1054.50 329.00,1057.50 325.50,1060.50" fill="#000"/>
<g transform="translate(307.00,1047.80) rotate(0) scale(1.0) translate(-19.08,0) matrix(1,0,-0.34,1,5.950,-18.050)" fill="none" stroke="#000" stroke-width="1.15" stroke-linecap="round" stroke-linejoin="round">
<path transform="translate(0.00,0)" d="M0,3.8 Q0.3,0 3.8,0 Q7.6,0 7.6,3.6 Q7.6,6.5 4.5,10.5 L0,17.5 L7.6,17.5"/>
<path transform="translate(12.00,0)" d="M4.2,0 L0,13.30 L9,13.30 M5.8,8.75 L5.8,17.5"/>
<path transform="translate(24.60,0)" d="M0,4 Q0,0 3.8,0 Q7.6,0 7.6,4 L7.6,13.5 Q7.6,17.5 3.8,17.5 Q0,17.5 0,13.5 Z"/>
</g>
<path d="M277.6,875.5 L371.4,808.6 L454,808.6" stroke="#222" stroke-width="0.9" fill="none" />
<polygon points="277.60,875.50 294.81,866.91 290.22,866.50 291.33,862.02" fill="#000"/>
<polygon points="336.90,834.20 319.69,842.79 324.28,843.20 323.17,847.68" fill="#000"/>
<g transform="translate(412.50,799.00) rotate(0) scale(1.0) translate(-29.58,0) matrix(1,0,-0.34,1,5.950,-18.050)" fill="none" stroke="#000" stroke-width="1.15" stroke-linecap="round" stroke-linejoin="round">
<path transform="translate(0.00,0)" d="M-0.6,17.5 L5.6,0 M-2.4,9.05 a5.1,5.1 0 1 0 10.2,0 a5.1,5.1 0 1 0 -10.2,0"/>
<path transform="translate(11.60,0)" d="M0,3.8 Q0.3,0 3.8,0 Q7.6,0 7.6,3.6 Q7.6,6.5 4.5,10.5 L0,17.5 L7.6,17.5"/>
<path transform="translate(23.60,0)" d="M8.2,0 L0.8,0 L0.8,7.4 L3.8,7.4 Q7.6,7.4 7.6,12.2 Q7.6,17.5 3.4,17.5 L0,17.5"/>
<path transform="translate(35.60,0)" d="M0,4 Q0,0 3.8,0 Q7.6,0 7.6,4 L7.6,13.5 Q7.6,17.5 3.8,17.5 Q0,17.5 0,13.5 Z"/>
<path transform="translate(47.60,0)" d="M3,0.3 L3,6.3 M0.4,1.8 L5.6,4.8 M5.6,1.8 L0.4,4.8"/>
</g>
<path d="M336.1,935.7 L406.5,1057 L473.2,1057" stroke="#222" stroke-width="0.9" fill="none" />
<polygon points="344.5,950.3 335.0,936.4 337.8,934.8" fill="#000"/>
<polygon points="344.5,950.3 354.0,964.2 351.2,965.8" fill="#000"/>
<g transform="translate(441.00,1047.30) rotate(0) scale(1.0) translate(-22.78,0) matrix(1,0,-0.34,1,5.950,-18.050)" fill="none" stroke="#000" stroke-width="1.15" stroke-linecap="round" stroke-linejoin="round">
<path transform="translate(0.00,0)" d="M-0.6,17.5 L5.6,0 M-2.4,9.05 a5.1,5.1 0 1 0 10.2,0 a5.1,5.1 0 1 0 -10.2,0"/>
<path transform="translate(11.60,0)" d="M0,4.8 L4.3,0 L4.3,17.5"/>
<path transform="translate(20.00,0)" d="M0,3.8 Q0.3,0 3.8,0 Q7.6,0 7.6,3.6 Q7.6,6.5 4.5,10.5 L0,17.5 L7.6,17.5"/>
<path transform="translate(32.00,0)" d="M8.2,0 L0.8,0 L0.8,7.4 L3.8,7.4 Q7.6,7.4 7.6,12.2 Q7.6,17.5 3.4,17.5 L0,17.5"/>
</g>
</g>
<g id="sect">
<path d="M1086,862 Q1094,837 1122.6,836.6 Q1151.2,837 1159.2,862" stroke="#000" stroke-width="2.07" fill="none" />
<line x1="1086.00" y1="862.00" x2="1102.50" y2="862.00" stroke="#000" stroke-width="2.3" />
<line x1="1142.30" y1="862.00" x2="1159.20" y2="862.00" stroke="#000" stroke-width="2.3" />
<rect x="1102.50" y="853.90" width="39.80" height="15.40" stroke="#000" stroke-width="1.95" fill="none"/>
<path d="M1071.9,870 L1071.9,862 L1086,862" stroke="#000" stroke-width="2.07" fill="none" />
<path d="M1173.2999999999997,870 L1173.2999999999997,862 L1159.1999999999998,862" stroke="#000" stroke-width="2.07" fill="none" />
<line x1="1079.60" y1="863.00" x2="1079.60" y2="869.00" stroke="#000" stroke-width="1.84" />
<line x1="1165.60" y1="863.00" x2="1165.60" y2="869.00" stroke="#000" stroke-width="1.84" />
<rect x="1093.60" y="866.50" width="7.40" height="3.10" stroke="#000" stroke-width="1.61" fill="none"/>
<line x1="1070.00" y1="870.60" x2="1175.20" y2="870.60" stroke="#000" stroke-width="2.76" />
<line x1="1071.20" y1="870.60" x2="1071.20" y2="961.00" stroke="#000" stroke-width="2.3" />
<line x1="1174.00" y1="870.60" x2="1174.00" y2="961.00" stroke="#000" stroke-width="2.3" />
<line x1="1005.20" y1="869.60" x2="1071.00" y2="869.60" stroke="#000" stroke-width="2.53" />
<line x1="1005.20" y1="869.60" x2="985.30" y2="961.00" stroke="#000" stroke-width="2.53" />
<line x1="1024.00" y1="861.60" x2="1024.00" y2="869.60" stroke="#000" stroke-width="2.3" />
<path d="M1049,869.6 L1049,863 Q1050.3,860.6 1051.6,863 L1051.6,869.6" stroke="#000" stroke-width="1.61" fill="none" />
<line x1="1029.00" y1="871.00" x2="1047.00" y2="871.00" stroke="#000" stroke-width="2.3" />
<line x1="976.20" y1="888.70" x2="998.40" y2="893.30" stroke="#000" stroke-width="2.76" stroke-linecap="round"/>
<circle cx="1001.00" cy="889.50" r="1.60" fill="#000"/>
<rect x="960.60" y="930.60" width="17.80" height="78.00" fill="#000"/>
<rect x="966.60" y="934.40" width="7.00" height="10.60" fill="#fff"/>
<rect x="968.60" y="949.00" width="5.20" height="3.40" fill="#fff"/>
<line x1="971.00" y1="954.00" x2="971.00" y2="1007.00" stroke="#fff" stroke-width="0.9" />
<line x1="965.60" y1="936.00" x2="965.60" y2="1006.00" stroke="#ccc" stroke-width="0.8" />
<line x1="976.40" y1="936.00" x2="976.40" y2="966.00" stroke="#bbb" stroke-width="0.8" />
<line x1="978.40" y1="940.60" x2="988.40" y2="943.20" stroke="#000" stroke-width="2.07" />
<circle cx="982.40" cy="961.60" r="1.60" fill="#000"/>
<line x1="951.70" y1="1007.50" x2="961.00" y2="1007.50" stroke="#000" stroke-width="2.99" />
<circle cx="962.60" cy="1003.50" r="1.80" fill="#000"/>
<path d="M979.8,990 L979.8,1020.2" stroke="#000" stroke-width="2.3" fill="none" />
<path d="M965.6,1008 L965.6,1027 Q966,1029.6 970,1029.6 L973,1029.6" stroke="#000" stroke-width="1.84" fill="none" />
<line x1="972.90" y1="1008.00" x2="972.90" y2="1033.00" stroke="#000" stroke-width="1.0" />
<circle cx="974.20" cy="1013.20" r="1.20" fill="#000"/>
<line x1="975.10" y1="1028.70" x2="975.10" y2="1038.00" stroke="#000" stroke-width="1.72" />
<circle cx="1008.60" cy="998.30" r="2.10" fill="#000"/>
<line x1="1240.00" y1="869.60" x2="1174.20" y2="869.60" stroke="#000" stroke-width="2.53" />
<line x1="1240.00" y1="869.60" x2="1259.90" y2="961.00" stroke="#000" stroke-width="2.53" />
<line x1="1221.20" y1="861.60" x2="1221.20" y2="869.60" stroke="#000" stroke-width="2.3" />
<path d="M1196.1999999999998,869.6 L1196.1999999999998,863 Q1194.8999999999999,860.6 1193.6,863 L1193.6,869.6" stroke="#000" stroke-width="1.61" fill="none" />
<line x1="1216.20" y1="871.00" x2="1198.20" y2="871.00" stroke="#000" stroke-width="2.3" />
<line x1="1269.00" y1="888.70" x2="1246.80" y2="893.30" stroke="#000" stroke-width="2.76" stroke-linecap="round"/>
<circle cx="1244.20" cy="889.50" r="1.60" fill="#000"/>
<rect x="1266.80" y="930.60" width="17.80" height="78.00" fill="#000"/>
<rect x="1271.60" y="934.40" width="7.00" height="10.60" fill="#fff"/>
<rect x="1271.40" y="949.00" width="5.20" height="3.40" fill="#fff"/>
<line x1="1274.20" y1="954.00" x2="1274.20" y2="1007.00" stroke="#fff" stroke-width="0.9" />
<line x1="1279.60" y1="936.00" x2="1279.60" y2="1006.00" stroke="#ccc" stroke-width="0.8" />
<line x1="1268.80" y1="936.00" x2="1268.80" y2="966.00" stroke="#bbb" stroke-width="0.8" />
<line x1="1266.80" y1="940.60" x2="1256.80" y2="943.20" stroke="#000" stroke-width="2.07" />
<circle cx="1262.80" cy="961.60" r="1.60" fill="#000"/>
<line x1="1293.50" y1="1007.50" x2="1284.20" y2="1007.50" stroke="#000" stroke-width="2.99" />
<circle cx="1282.60" cy="1003.50" r="1.80" fill="#000"/>
<path d="M1265.3999999999999,990 L1265.3999999999999,1020.2" stroke="#000" stroke-width="2.3" fill="none" />
<path d="M1279.6,1008 L1279.6,1027 Q1279.1999999999998,1029.6 1275.1999999999998,1029.6 L1272.1999999999998,1029.6" stroke="#000" stroke-width="1.84" fill="none" />
<line x1="1272.30" y1="1008.00" x2="1272.30" y2="1033.00" stroke="#000" stroke-width="1.0" />
<circle cx="1271.00" cy="1013.20" r="1.20" fill="#000"/>
<line x1="1270.10" y1="1028.70" x2="1270.10" y2="1038.00" stroke="#000" stroke-width="1.72" />
<circle cx="1236.60" cy="998.30" r="2.10" fill="#000"/>
<line x1="985.50" y1="961.00" x2="1259.70" y2="961.00" stroke="#000" stroke-width="2.53" />
<rect x="1022.10" y="954.60" width="46.00" height="6.40" stroke="#000" stroke-width="1.72" fill="none"/>
<line x1="1016.00" y1="958.60" x2="1022.00" y2="958.60" stroke="#000" stroke-width="2.3" />
<rect x="1018.70" y="971.00" width="175.70" height="38.30" stroke="#000" stroke-width="2.3" fill="none"/>
<rect x="1021.30" y="973.60" width="170.50" height="33.10" stroke="#000" stroke-width="1.38" fill="none"/>
<circle cx="1034.00" cy="971.20" r="1.40" fill="#000"/>
<circle cx="1034.00" cy="1009.20" r="1.40" fill="#000"/>
<circle cx="1106.50" cy="971.20" r="1.40" fill="#000"/>
<circle cx="1106.50" cy="1009.20" r="1.40" fill="#000"/>
<circle cx="1180.00" cy="971.20" r="1.40" fill="#000"/>
<circle cx="1180.00" cy="1009.20" r="1.40" fill="#000"/>
<circle cx="1018.80" cy="990.00" r="1.30" fill="#000"/>
<circle cx="1194.30" cy="990.00" r="1.30" fill="#000"/>
<line x1="979.80" y1="1020.20" x2="1265.40" y2="1020.20" stroke="#000" stroke-width="2.53" />
<line x1="981.00" y1="1024.00" x2="1264.20" y2="1024.00" stroke="#000" stroke-width="1.49" stroke-dasharray="14 2"/>
<line x1="972.90" y1="1028.70" x2="1272.30" y2="1028.70" stroke="#000" stroke-width="1.72" />
<line x1="975.10" y1="1033.00" x2="1270.10" y2="1033.00" stroke="#000" stroke-width="1.49" />
<line x1="975.10" y1="1037.80" x2="1270.10" y2="1037.80" stroke="#000" stroke-width="1.95" />
<rect x="1030.90" y="1027.60" width="5.00" height="2.80" fill="#000"/>
<rect x="1209.10" y="1027.60" width="5.00" height="2.80" fill="#000"/>
<rect x="1088.80" y="1038.00" width="66.70" height="2.90" stroke="#000" stroke-width="1.49" fill="#fff"/>
<rect x="1100.20" y="1028.70" width="2.60" height="9.30" stroke="#000" stroke-width="1.38" fill="#fff"/>
<rect x="1141.20" y="1028.70" width="2.60" height="9.30" stroke="#000" stroke-width="1.38" fill="#fff"/>
<circle cx="1034.30" cy="891.50" r="12.80" stroke="#000" stroke-width="2.07" fill="#fff"/>
<circle cx="1034.30" cy="891.50" r="3.00" stroke="#000" stroke-width="1.61" fill="none"/>
<circle cx="1034.30" cy="891.50" r="1.30" fill="#000"/>
<circle cx="1042.01" cy="888.70" r="1.50" fill="#000"/>
<circle cx="1031.50" cy="883.79" r="1.50" fill="#000"/>
<circle cx="1026.59" cy="894.30" r="1.50" fill="#000"/>
<circle cx="1037.10" cy="899.21" r="1.50" fill="#000"/>
<circle cx="1210.80" cy="891.50" r="12.80" stroke="#000" stroke-width="2.07" fill="#fff"/>
<circle cx="1210.80" cy="891.50" r="3.00" stroke="#000" stroke-width="1.61" fill="none"/>
<circle cx="1210.80" cy="891.50" r="1.30" fill="#000"/>
<circle cx="1218.51" cy="888.70" r="1.50" fill="#000"/>
<circle cx="1208.00" cy="883.79" r="1.50" fill="#000"/>
<circle cx="1203.09" cy="894.30" r="1.50" fill="#000"/>
<circle cx="1213.60" cy="899.21" r="1.50" fill="#000"/>
<circle cx="972.90" cy="980.80" r="12.80" stroke="#000" stroke-width="2.07" fill="#fff"/>
<circle cx="972.90" cy="980.80" r="3.00" stroke="#000" stroke-width="1.61" fill="none"/>
<circle cx="972.90" cy="980.80" r="1.30" fill="#000"/>
<circle cx="980.61" cy="978.00" r="1.50" fill="#000"/>
<circle cx="970.10" cy="973.09" r="1.50" fill="#000"/>
<circle cx="965.19" cy="983.60" r="1.50" fill="#000"/>
<circle cx="975.70" cy="988.51" r="1.50" fill="#000"/>
<circle cx="1272.40" cy="980.80" r="12.80" stroke="#000" stroke-width="2.07" fill="#fff"/>
<circle cx="1272.40" cy="980.80" r="3.00" stroke="#000" stroke-width="1.61" fill="none"/>
<circle cx="1272.40" cy="980.80" r="1.30" fill="#000"/>
<circle cx="1280.11" cy="978.00" r="1.50" fill="#000"/>
<circle cx="1269.60" cy="973.09" r="1.50" fill="#000"/>
<circle cx="1264.69" cy="983.60" r="1.50" fill="#000"/>
<circle cx="1275.20" cy="988.51" r="1.50" fill="#000"/>
<line x1="1034.50" y1="821.00" x2="1034.50" y2="911.20" stroke="#3a3a3a" stroke-width="1.0" />
<line x1="1210.50" y1="821.00" x2="1210.50" y2="911.20" stroke="#3a3a3a" stroke-width="1.0" />
<line x1="1013.00" y1="891.50" x2="1055.00" y2="891.50" stroke="#3a3a3a" stroke-width="1.0" />
<line x1="1190.00" y1="891.50" x2="1231.00" y2="891.50" stroke="#3a3a3a" stroke-width="1.0" />
<line x1="1034.50" y1="829.50" x2="1210.50" y2="829.50" stroke="#3a3a3a" stroke-width="1.0" />
<polygon points="1034.50,829.50 1053.50,832.50 1050.00,829.50 1053.50,826.50" fill="#000"/>
<polygon points="1210.50,829.50 1191.50,826.50 1195.00,829.50 1191.50,832.50" fill="#000"/>
<g transform="translate(1122.50,819.80) rotate(0) scale(1.0) translate(-18.78,0) matrix(1,0,-0.34,1,5.950,-18.050)" fill="none" stroke="#000" stroke-width="1.15" stroke-linecap="round" stroke-linejoin="round">
<path transform="translate(0.00,0)" d="M8.2,0 L0.8,0 L0.8,7.4 L3.8,7.4 Q7.6,7.4 7.6,12.2 Q7.6,17.5 3.4,17.5 L0,17.5"/>
<path transform="translate(12.00,0)" d="M7.2,0 Q0,2.5 0,10 L0,13.5 Q0,17.5 3.8,17.5 Q7.6,17.5 7.6,13.5 L7.6,11.6 Q7.6,7.6 3.8,7.6 L0.5,7.6"/>
<path transform="translate(24.00,0)" d="M0,4 Q0,0 3.8,0 Q7.6,0 7.6,4 L7.6,13.5 Q7.6,17.5 3.8,17.5 Q0,17.5 0,13.5 Z"/>
</g>
<line x1="921.60" y1="891.50" x2="1013.00" y2="891.50" stroke="#3a3a3a" stroke-width="1.0" />
<line x1="921.60" y1="980.50" x2="993.00" y2="980.50" stroke="#3a3a3a" stroke-width="1.0" />
<line x1="921.60" y1="1037.50" x2="975.00" y2="1037.50" stroke="#3a3a3a" stroke-width="1.0" />
<line x1="929.50" y1="891.50" x2="929.50" y2="1037.50" stroke="#3a3a3a" stroke-width="1.0" />
<polygon points="929.10,891.50 926.10,910.50 929.10,907.00 932.10,910.50" fill="#000"/>
<polygon points="929.10,980.80 932.10,961.80 929.10,965.30 926.10,961.80" fill="#000"/>
<polygon points="929.10,980.80 926.10,999.80 929.10,996.30 932.10,999.80" fill="#000"/>
<polygon points="929.10,1037.50 932.10,1018.50 929.10,1022.00 926.10,1018.50" fill="#000"/>
<g transform="translate(919.40,936.50) rotate(-90) scale(1.0) translate(-19.48,0) matrix(1,0,-0.34,1,5.950,-18.050)" fill="none" stroke="#000" stroke-width="1.15" stroke-linecap="round" stroke-linejoin="round">
<path transform="translate(0.00,0)" d="M0,3.8 Q0.3,0 3.8,0 Q7.6,0 7.6,3.6 Q7.6,6.5 4.5,10.5 L0,17.5 L7.6,17.5"/>
<path transform="translate(12.00,0)" d="M3.8,8 Q0.5,8 0.5,4 Q0.5,0 3.8,0 Q7.1,0 7.1,4 Q7.1,8 3.8,8 Q0,8 0,12.8 Q0,17.5 3.8,17.5 Q7.6,17.5 7.6,12.8 Q7.6,8 3.8,8"/>
<path transform="translate(24.00,0)" d="M4.2,0 L0,13.30 L9,13.30 M5.8,8.75 L5.8,17.5"/>
</g>
<g transform="translate(919.40,1010.00) rotate(-90) scale(1.0) translate(-15.32,0) matrix(1,0,-0.34,1,5.950,-18.050)" fill="none" stroke="#000" stroke-width="1.15" stroke-linecap="round" stroke-linejoin="round">
<path transform="translate(0.00,0)" d="M0,4.8 L4.3,0 L4.3,17.5"/>
<path transform="translate(8.40,0)" d="M3.8,8 Q0.5,8 0.5,4 Q0.5,0 3.8,0 Q7.1,0 7.1,4 Q7.1,8 3.8,8 Q0,8 0,12.8 Q0,17.5 3.8,17.5 Q7.6,17.5 7.6,12.8 Q7.6,8 3.8,8"/>
<path transform="translate(20.40,0)" d="M0,4.8 L4.3,0 L4.3,17.5"/>
</g>
<line x1="972.50" y1="995.00" x2="972.50" y2="1084.00" stroke="#3a3a3a" stroke-width="1.0" />
<line x1="1272.50" y1="995.00" x2="1272.50" y2="1084.00" stroke="#3a3a3a" stroke-width="1.0" />
<line x1="1251.00" y1="980.50" x2="1294.00" y2="980.50" stroke="#3a3a3a" stroke-width="1.0" />
<line x1="972.50" y1="1077.50" x2="1272.50" y2="1077.50" stroke="#3a3a3a" stroke-width="1.0" />
<polygon points="972.50,1077.50 991.50,1080.50 988.00,1077.50 991.50,1074.50" fill="#000"/>
<polygon points="1272.50,1077.50 1253.50,1074.50 1257.00,1077.50 1253.50,1080.50" fill="#000"/>
<g transform="translate(1123.50,1067.80) rotate(0) scale(1.0) translate(-19.08,0) matrix(1,0,-0.34,1,5.950,-18.050)" fill="none" stroke="#000" stroke-width="1.15" stroke-linecap="round" stroke-linejoin="round">
<path transform="translate(0.00,0)" d="M7.6,4 Q7.6,0 3.8,0 Q0,0 0,4 L0,6 Q0,10 3.8,10 L7.199999999999999,10 M7.6,4 L7.6,8 Q7.6,15 1.2,17.5"/>
<path transform="translate(12.00,0)" d="M4.2,0 L0,13.30 L9,13.30 M5.8,8.75 L5.8,17.5"/>
<path transform="translate(24.60,0)" d="M7.6,4 Q7.6,0 3.8,0 Q0,0 0,4 L0,6 Q0,10 3.8,10 L7.199999999999999,10 M7.6,4 L7.6,8 Q7.6,15 1.2,17.5"/>
</g>
<path d="M1241.4,957.3 L1309,1008 L1380.4,1008" stroke="#222" stroke-width="0.9" fill="none" />
<polygon points="1262.40,973.10 1249.00,959.30 1250.00,963.80 1245.40,964.10" fill="#000"/>
<polygon points="1282.60,988.30 1296.00,1002.10 1295.00,997.60 1299.60,997.30" fill="#000"/>
<g transform="translate(1343.80,998.30) rotate(0) scale(1.0) translate(-23.58,0) matrix(1,0,-0.34,1,5.950,-18.050)" fill="none" stroke="#000" stroke-width="1.15" stroke-linecap="round" stroke-linejoin="round">
<path transform="translate(0.00,0)" d="M-0.6,17.5 L5.6,0 M-2.4,9.05 a5.1,5.1 0 1 0 10.2,0 a5.1,5.1 0 1 0 -10.2,0"/>
<path transform="translate(11.60,0)" d="M3.8,8 Q0.5,8 0.5,4 Q0.5,0 3.8,0 Q7.1,0 7.1,4 Q7.1,8 3.8,8 Q0,8 0,12.8 Q0,17.5 3.8,17.5 Q7.6,17.5 7.6,12.8 Q7.6,8 3.8,8"/>
<path transform="translate(23.60,0)" d="M0,4 Q0,0 3.8,0 Q7.6,0 7.6,4 L7.6,13.5 Q7.6,17.5 3.8,17.5 Q0,17.5 0,13.5 Z"/>
<path transform="translate(35.60,0)" d="M3,0.3 L3,6.3 M0.4,1.8 L5.6,4.8 M5.6,1.8 L0.4,4.8"/>
</g>
<path d="M1165.2,806.2 L1175.2,771.4 L1185.2,806.2 M1168.4,794.4 L1182,794.4" stroke="#000" stroke-width="2.3" fill="none" />
<path d="M1224,810.6 L1224,826.4 L1227.6,823 L1230.2,828.8 L1232.2,828 L1229.8,822.2 L1234.6,822 Z" stroke="#000" stroke-width="1.0" fill="#fff" />
</g>
</svg>
</body></html>
